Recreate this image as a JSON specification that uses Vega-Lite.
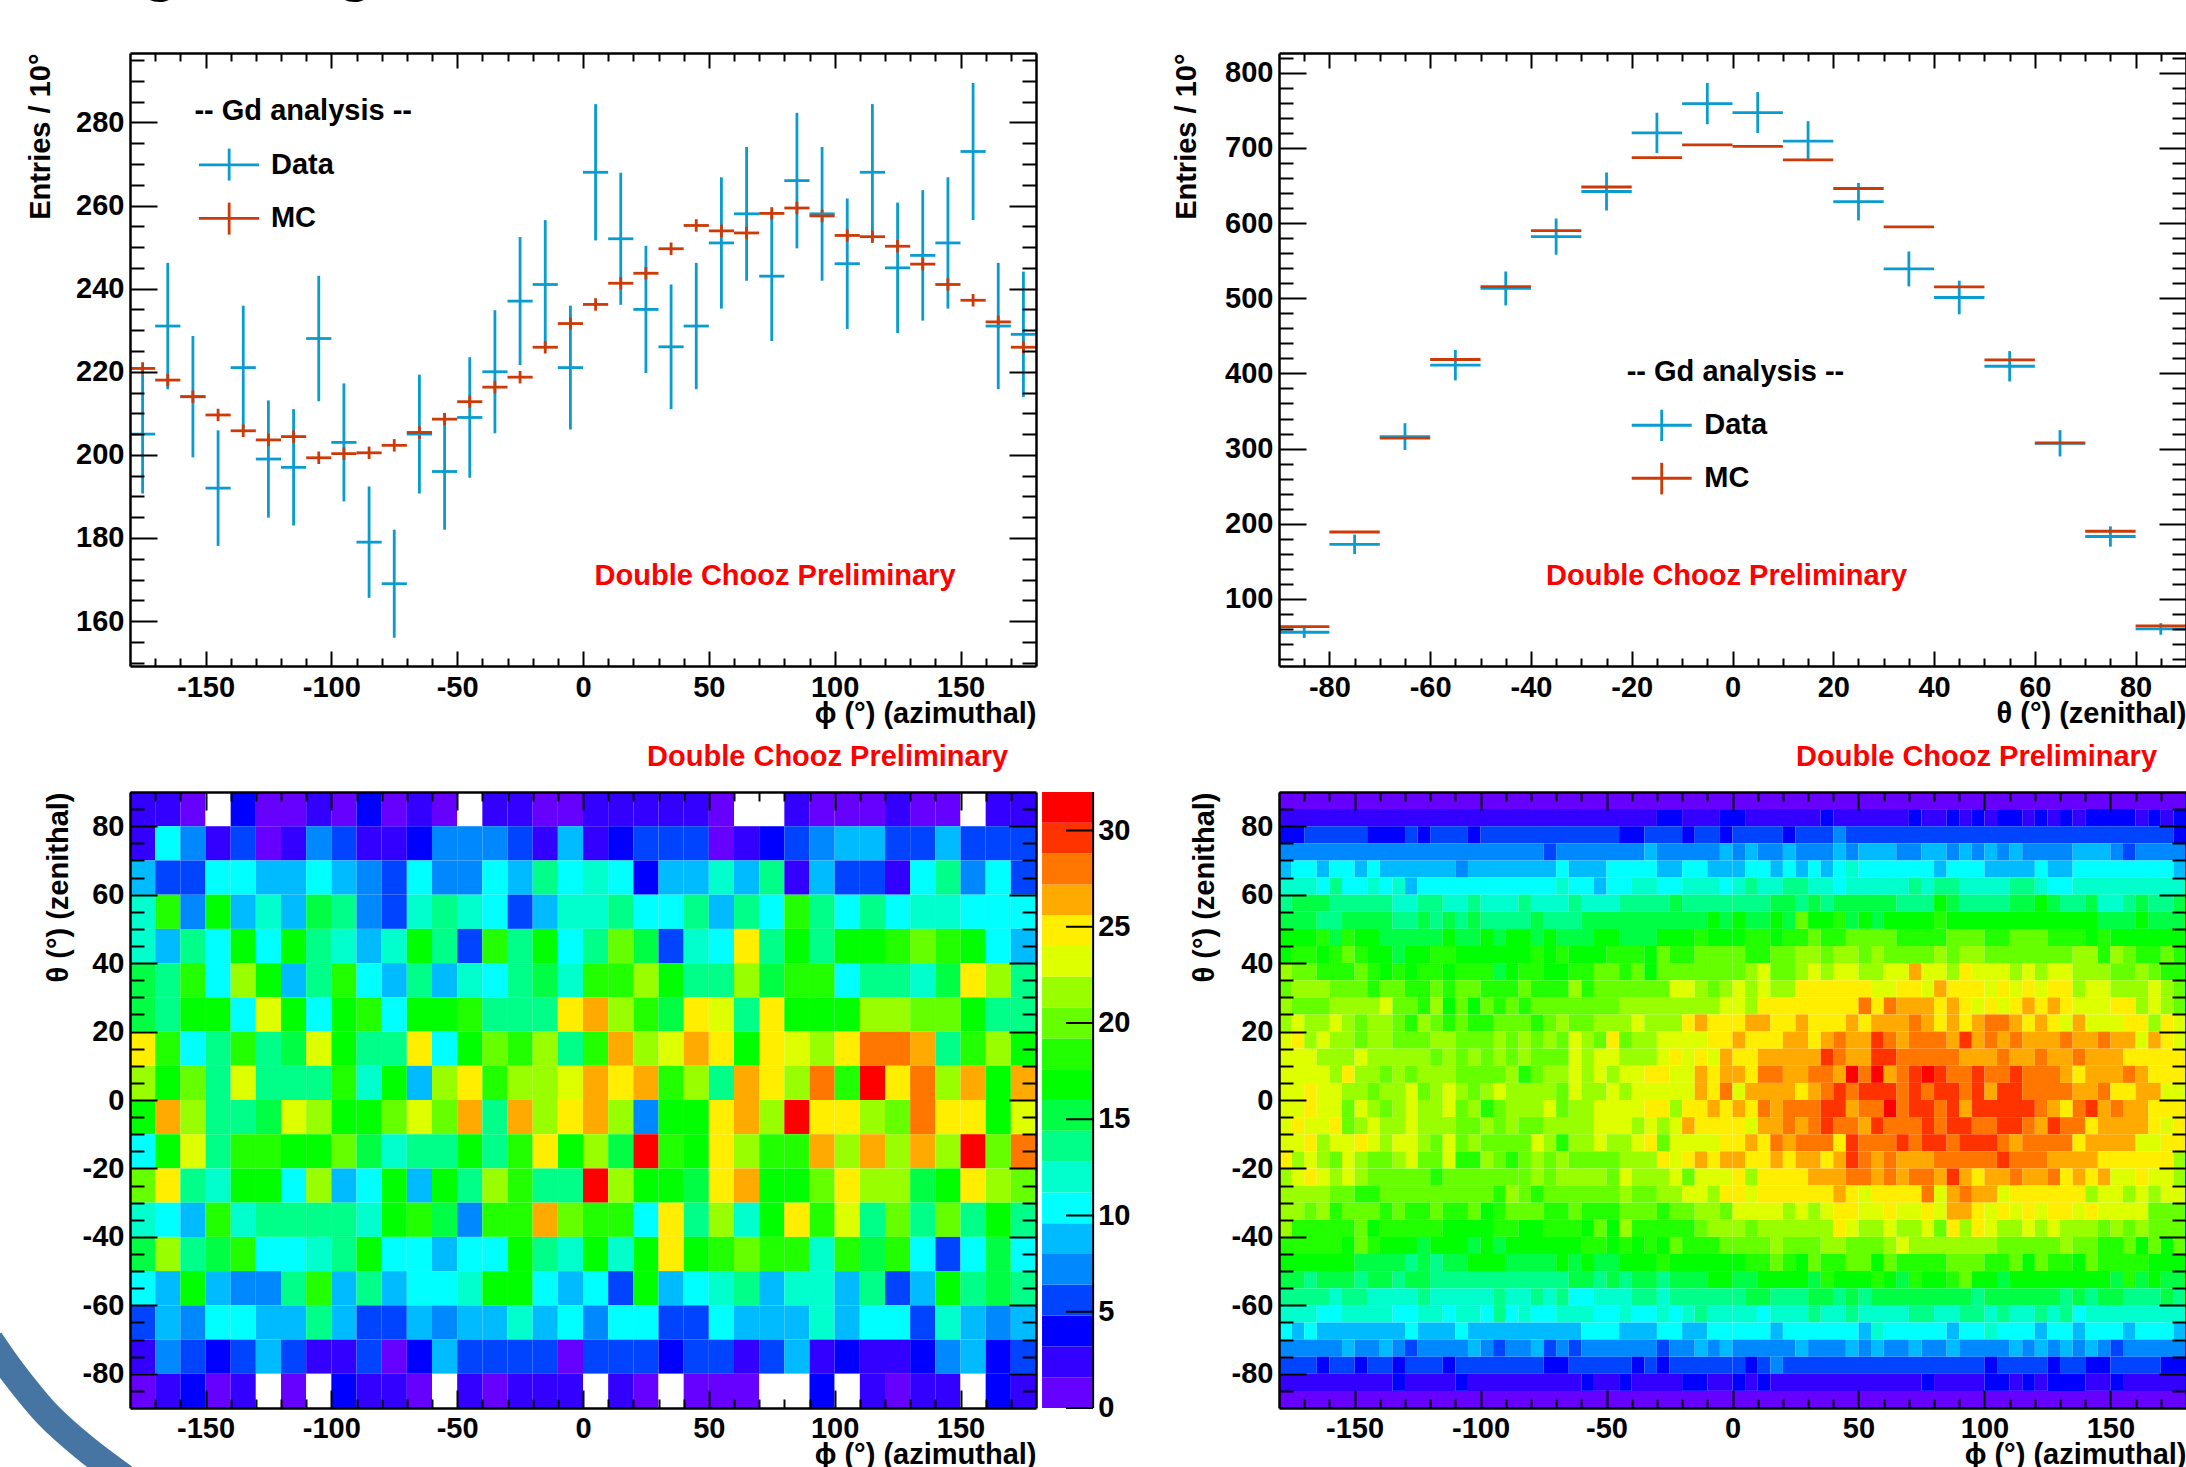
{"$schema":"https://vega.github.io/schema/vega-lite/v6.json","autosize":{"type":"none"},"padding":{"left":130,"top":53,"right":2056,"bottom":1414},"background":"white","config":{"view":{"stroke":null},"axis":{"labelFont":"Liberation Sans","labelFontWeight":"bold","labelFontSize":29,"labelColor":"#000","titleFont":"Liberation Sans","titleFontWeight":"bold","titleFontSize":29,"titleColor":"#000","grid":false,"tickColor":"#000","domainColor":"#000","domainWidth":2.5,"tickWidth":2,"labelOverlap":false,"labelFlush":false,"labelBound":false},"text":{"font":"Liberation Sans","fontWeight":"bold","fontSize":29,"baseline":"middle"}},
"datasets":{
"p1":[{"p":-175,"x1":-180,"x2":-170,"v":205,"lo":190.7,"hi":219.3,"s":"Data"},{"p":-165,"x1":-170,"x2":-160,"v":231,"lo":215.8,"hi":246.2,"s":"Data"},{"p":-155,"x1":-160,"x2":-150,"v":214,"lo":199.4,"hi":228.6,"s":"Data"},{"p":-145,"x1":-150,"x2":-140,"v":192,"lo":178.1,"hi":205.9,"s":"Data"},{"p":-135,"x1":-140,"x2":-130,"v":221,"lo":206.1,"hi":235.9,"s":"Data"},{"p":-125,"x1":-130,"x2":-120,"v":199,"lo":184.9,"hi":213.1,"s":"Data"},{"p":-115,"x1":-120,"x2":-110,"v":197,"lo":183,"hi":211,"s":"Data"},{"p":-105,"x1":-110,"x2":-100,"v":228,"lo":212.9,"hi":243.1,"s":"Data"},{"p":-95,"x1":-100,"x2":-90,"v":203,"lo":188.8,"hi":217.2,"s":"Data"},{"p":-85,"x1":-90,"x2":-80,"v":179,"lo":165.6,"hi":192.4,"s":"Data"},{"p":-75,"x1":-80,"x2":-70,"v":169,"lo":156,"hi":182,"s":"Data"},{"p":-65,"x1":-70,"x2":-60,"v":205,"lo":190.7,"hi":219.3,"s":"Data"},{"p":-55,"x1":-60,"x2":-50,"v":196,"lo":182,"hi":210,"s":"Data"},{"p":-45,"x1":-50,"x2":-40,"v":209,"lo":194.5,"hi":223.5,"s":"Data"},{"p":-35,"x1":-40,"x2":-30,"v":220,"lo":205.2,"hi":234.8,"s":"Data"},{"p":-25,"x1":-30,"x2":-20,"v":237,"lo":221.6,"hi":252.4,"s":"Data"},{"p":-15,"x1":-20,"x2":-10,"v":241,"lo":225.5,"hi":256.5,"s":"Data"},{"p":-5,"x1":-10,"x2":0,"v":221,"lo":206.1,"hi":235.9,"s":"Data"},{"p":5,"x1":0,"x2":10,"v":268,"lo":251.6,"hi":284.4,"s":"Data"},{"p":15,"x1":10,"x2":20,"v":252,"lo":236.1,"hi":267.9,"s":"Data"},{"p":25,"x1":20,"x2":30,"v":235,"lo":219.7,"hi":250.3,"s":"Data"},{"p":35,"x1":30,"x2":40,"v":226,"lo":211,"hi":241,"s":"Data"},{"p":45,"x1":40,"x2":50,"v":231,"lo":215.8,"hi":246.2,"s":"Data"},{"p":55,"x1":50,"x2":60,"v":251,"lo":235.2,"hi":266.8,"s":"Data"},{"p":65,"x1":60,"x2":70,"v":258,"lo":241.9,"hi":274.1,"s":"Data"},{"p":75,"x1":70,"x2":80,"v":243,"lo":227.4,"hi":258.6,"s":"Data"},{"p":85,"x1":80,"x2":90,"v":266,"lo":249.7,"hi":282.3,"s":"Data"},{"p":95,"x1":90,"x2":100,"v":258,"lo":241.9,"hi":274.1,"s":"Data"},{"p":105,"x1":100,"x2":110,"v":246,"lo":230.3,"hi":261.7,"s":"Data"},{"p":115,"x1":110,"x2":120,"v":268,"lo":251.6,"hi":284.4,"s":"Data"},{"p":125,"x1":120,"x2":130,"v":245,"lo":229.3,"hi":260.7,"s":"Data"},{"p":135,"x1":130,"x2":140,"v":248,"lo":232.3,"hi":263.7,"s":"Data"},{"p":145,"x1":140,"x2":150,"v":251,"lo":235.2,"hi":266.8,"s":"Data"},{"p":155,"x1":150,"x2":160,"v":273,"lo":256.5,"hi":289.5,"s":"Data"},{"p":165,"x1":160,"x2":170,"v":231,"lo":215.8,"hi":246.2,"s":"Data"},{"p":175,"x1":170,"x2":180,"v":229,"lo":213.9,"hi":244.1,"s":"Data"},{"p":-140.6,"x1":-152.6,"x2":-128.7,"v":269.8,"lo":266,"hi":273.7,"s":"Data"},
{"p":-175,"x1":-180,"x2":-170,"v":220.8,"lo":219.3,"hi":222.3,"s":"MC"},{"p":-165,"x1":-170,"x2":-160,"v":218,"lo":216.5,"hi":219.5,"s":"MC"},{"p":-155,"x1":-160,"x2":-150,"v":214,"lo":212.5,"hi":215.5,"s":"MC"},{"p":-145,"x1":-150,"x2":-140,"v":209.6,"lo":208.1,"hi":211.1,"s":"MC"},{"p":-135,"x1":-140,"x2":-130,"v":205.8,"lo":204.3,"hi":207.3,"s":"MC"},{"p":-125,"x1":-130,"x2":-120,"v":203.6,"lo":202.1,"hi":205.1,"s":"MC"},{"p":-115,"x1":-120,"x2":-110,"v":204.4,"lo":202.9,"hi":205.9,"s":"MC"},{"p":-105,"x1":-110,"x2":-100,"v":199.3,"lo":197.8,"hi":200.8,"s":"MC"},{"p":-95,"x1":-100,"x2":-90,"v":200.3,"lo":198.8,"hi":201.8,"s":"MC"},{"p":-85,"x1":-90,"x2":-80,"v":200.5,"lo":199,"hi":202,"s":"MC"},{"p":-75,"x1":-80,"x2":-70,"v":202.3,"lo":200.8,"hi":203.8,"s":"MC"},{"p":-65,"x1":-70,"x2":-60,"v":205.4,"lo":203.9,"hi":206.9,"s":"MC"},{"p":-55,"x1":-60,"x2":-50,"v":208.6,"lo":207.1,"hi":210.1,"s":"MC"},{"p":-45,"x1":-50,"x2":-40,"v":212.8,"lo":211.3,"hi":214.3,"s":"MC"},{"p":-35,"x1":-40,"x2":-30,"v":216.3,"lo":214.8,"hi":217.8,"s":"MC"},{"p":-25,"x1":-30,"x2":-20,"v":218.7,"lo":217.2,"hi":220.2,"s":"MC"},{"p":-15,"x1":-20,"x2":-10,"v":225.9,"lo":224.4,"hi":227.4,"s":"MC"},{"p":-5,"x1":-10,"x2":0,"v":231.6,"lo":230.1,"hi":233.1,"s":"MC"},{"p":5,"x1":0,"x2":10,"v":236.2,"lo":234.7,"hi":237.7,"s":"MC"},{"p":15,"x1":10,"x2":20,"v":241.3,"lo":239.8,"hi":242.8,"s":"MC"},{"p":25,"x1":20,"x2":30,"v":243.7,"lo":242.2,"hi":245.2,"s":"MC"},{"p":35,"x1":30,"x2":40,"v":249.6,"lo":248.1,"hi":251.1,"s":"MC"},{"p":45,"x1":40,"x2":50,"v":255.2,"lo":253.7,"hi":256.7,"s":"MC"},{"p":55,"x1":50,"x2":60,"v":253.9,"lo":252.4,"hi":255.4,"s":"MC"},{"p":65,"x1":60,"x2":70,"v":253.4,"lo":251.9,"hi":254.9,"s":"MC"},{"p":75,"x1":70,"x2":80,"v":258.1,"lo":256.6,"hi":259.6,"s":"MC"},{"p":85,"x1":80,"x2":90,"v":259.4,"lo":257.9,"hi":260.9,"s":"MC"},{"p":95,"x1":90,"x2":100,"v":257.5,"lo":256,"hi":259,"s":"MC"},{"p":105,"x1":100,"x2":110,"v":252.8,"lo":251.3,"hi":254.3,"s":"MC"},{"p":115,"x1":110,"x2":120,"v":252.5,"lo":251,"hi":254,"s":"MC"},{"p":125,"x1":120,"x2":130,"v":250.2,"lo":248.7,"hi":251.7,"s":"MC"},{"p":135,"x1":130,"x2":140,"v":245.9,"lo":244.4,"hi":247.4,"s":"MC"},{"p":145,"x1":140,"x2":150,"v":241,"lo":239.5,"hi":242.5,"s":"MC"},{"p":155,"x1":150,"x2":160,"v":237.2,"lo":235.7,"hi":238.7,"s":"MC"},{"p":165,"x1":160,"x2":170,"v":232,"lo":230.5,"hi":233.5,"s":"MC"},{"p":175,"x1":170,"x2":180,"v":225.9,"lo":224.4,"hi":227.4,"s":"MC"},{"p":-140.6,"x1":-152.6,"x2":-128.7,"v":256.9,"lo":253,"hi":260.7,"s":"MC"}],
"p2":[{"p":-85,"x1":-90,"x2":-80,"v":55.6,"lo":48,"hi":63,"s":"Data"},{"p":-75,"x1":-80,"x2":-70,"v":172.5,"lo":159.5,"hi":185.5,"s":"Data"},{"p":-65,"x1":-70,"x2":-60,"v":316,"lo":298.2,"hi":333.8,"s":"Data"},{"p":-55,"x1":-60,"x2":-50,"v":411,"lo":390.7,"hi":431.3,"s":"Data"},{"p":-45,"x1":-50,"x2":-40,"v":513,"lo":490.4,"hi":535.6,"s":"Data"},{"p":-35,"x1":-40,"x2":-30,"v":582,"lo":557.9,"hi":606.1,"s":"Data"},{"p":-25,"x1":-30,"x2":-20,"v":642,"lo":616.7,"hi":667.3,"s":"Data"},{"p":-15,"x1":-20,"x2":-10,"v":720,"lo":693.2,"hi":746.8,"s":"Data"},{"p":-5,"x1":-10,"x2":0,"v":759,"lo":731.5,"hi":786.5,"s":"Data"},{"p":5,"x1":0,"x2":10,"v":747,"lo":719.7,"hi":774.3,"s":"Data"},{"p":15,"x1":10,"x2":20,"v":709,"lo":682.4,"hi":735.6,"s":"Data"},{"p":25,"x1":20,"x2":30,"v":628.5,"lo":603.5,"hi":653.5,"s":"Data"},{"p":35,"x1":30,"x2":40,"v":539,"lo":515.8,"hi":562.2,"s":"Data"},{"p":45,"x1":40,"x2":50,"v":501,"lo":478.6,"hi":523.4,"s":"Data"},{"p":55,"x1":50,"x2":60,"v":409.5,"lo":389.3,"hi":429.7,"s":"Data"},{"p":65,"x1":60,"x2":70,"v":307,"lo":289.5,"hi":324.5,"s":"Data"},{"p":75,"x1":70,"x2":80,"v":183,"lo":169.5,"hi":196.5,"s":"Data"},{"p":85,"x1":80,"x2":90,"v":60,"lo":52.3,"hi":67.7,"s":"Data"},{"p":-14.05,"x1":-20,"x2":-8.1,"v":331,"lo":310,"hi":351.7,"s":"Data"},
{"p":-85,"x1":-90,"x2":-80,"v":63,"lo":62,"hi":64,"s":"MC"},{"p":-75,"x1":-80,"x2":-70,"v":189,"lo":188,"hi":190,"s":"MC"},{"p":-65,"x1":-70,"x2":-60,"v":314,"lo":313,"hi":315,"s":"MC"},{"p":-55,"x1":-60,"x2":-50,"v":418.5,"lo":417.5,"hi":419.5,"s":"MC"},{"p":-45,"x1":-50,"x2":-40,"v":515.5,"lo":514.5,"hi":516.5,"s":"MC"},{"p":-35,"x1":-40,"x2":-30,"v":590,"lo":589,"hi":591,"s":"MC"},{"p":-25,"x1":-30,"x2":-20,"v":648,"lo":647,"hi":649,"s":"MC"},{"p":-15,"x1":-20,"x2":-10,"v":687,"lo":686,"hi":688,"s":"MC"},{"p":-5,"x1":-10,"x2":0,"v":704,"lo":703,"hi":705,"s":"MC"},{"p":5,"x1":0,"x2":10,"v":702,"lo":701,"hi":703,"s":"MC"},{"p":15,"x1":10,"x2":20,"v":684,"lo":683,"hi":685,"s":"MC"},{"p":25,"x1":20,"x2":30,"v":646,"lo":645,"hi":647,"s":"MC"},{"p":35,"x1":30,"x2":40,"v":595,"lo":594,"hi":596,"s":"MC"},{"p":45,"x1":40,"x2":50,"v":515,"lo":514,"hi":516,"s":"MC"},{"p":55,"x1":50,"x2":60,"v":418,"lo":417,"hi":419,"s":"MC"},{"p":65,"x1":60,"x2":70,"v":307.5,"lo":306.5,"hi":308.5,"s":"MC"},{"p":75,"x1":70,"x2":80,"v":190,"lo":189,"hi":191,"s":"MC"},{"p":85,"x1":80,"x2":90,"v":64,"lo":63,"hi":65,"s":"MC"},{"p":-14.05,"x1":-20,"x2":-8.1,"v":260.5,"lo":239,"hi":281,"s":"MC"}]
},
"spacing":{"row":126,"column":243},"columns":2,"bounds":"flush","align":"none",
"concat":[
{"width":906,"height":613,"resolve":{"axis":{"x":"independent","y":"independent"}},"layer":[
{"data":{"name":"p1"},"mark":{"type":"rule","strokeWidth":2.8},"encoding":{"x":{"field":"p","type":"quantitative","scale":{"domain":[-180,180],"nice":false,"zero":false},"axis":null},"y":{"field":"lo","type":"quantitative","scale":{"domain":[149.2,296.7],"nice":false,"zero":false},"axis":null},"y2":{"field":"hi"},"color":{"field":"s","type":"nominal","scale":{"domain":["Data","MC"],"range":["#0a9ccf","#cc3a08"]},"legend":null}}},
{"data":{"name":"p1"},"mark":{"type":"rule","strokeWidth":2.8},"encoding":{"x":{"field":"x1","type":"quantitative","scale":{"domain":[-180,180],"nice":false,"zero":false},"axis":null},"x2":{"field":"x2"},"y":{"field":"v","type":"quantitative","scale":{"domain":[149.2,296.7],"nice":false,"zero":false},"axis":null},"color":{"field":"s","type":"nominal","scale":{"domain":["Data","MC"],"range":["#0a9ccf","#cc3a08"]},"legend":null}}},
{"data":{"values":[{"x":-154.4,"y":282.7,"label":"-- Gd analysis --"},{"x":-124,"y":269.8,"label":"Data"},{"x":-124,"y":256.9,"label":"MC"}]},"mark":{"type":"text","align":"left","color":"#000"},"encoding":{"x":{"field":"x","type":"quantitative","scale":{"domain":[-180,180],"nice":false,"zero":false},"axis":null},"y":{"field":"y","type":"quantitative","scale":{"domain":[149.2,296.7],"nice":false,"zero":false},"axis":null},"text":{"field":"label"}}},
{"data":{"values":[{"x":4.6,"y":170.8,"label":"Double Chooz Preliminary"}]},"mark":{"type":"text","align":"left","color":"#ff0000"},"encoding":{"x":{"field":"x","type":"quantitative","scale":{"domain":[-180,180],"nice":false,"zero":false},"axis":null},"y":{"field":"y","type":"quantitative","scale":{"domain":[149.2,296.7],"nice":false,"zero":false},"axis":null},"text":{"field":"label"}}},
{"data":{"values":[{"x":-168,"y":311.9,"label":"g"},{"x":-90.6,"y":311.9,"label":"g"}]},"mark":{"type":"text","align":"center","baseline":"alphabetic","fontSize":60,"color":"#000"},"encoding":{"x":{"field":"x","type":"quantitative","scale":{"domain":[-180,180],"nice":false,"zero":false},"axis":null},"y":{"field":"y","type":"quantitative","scale":{"domain":[149.2,296.7],"nice":false,"zero":false},"axis":null},"text":{"field":"label"}}},
{"data":{"values":[{"p":0,"v":200}]},"mark":{"type":"point","opacity":0},"encoding":{"x":{"field":"p","type":"quantitative","scale":{"domain":[-180,180],"nice":false,"zero":false},"axis":{"orient":"bottom","values":[-150,-100,-50,0,50,100,150],"labelExpr":"replace(datum.label,'−','-')","ticks":false,"domain":false,"labelPadding":7,"title":"ϕ (°) (azimuthal)","titleAnchor":"end","titlePadding":-3}},"y":{"field":"v","type":"quantitative","scale":{"domain":[149.2,296.7],"nice":false,"zero":false},"axis":{"orient":"left","values":[160,180,200,220,240,260,280],"ticks":false,"domain":false,"labelPadding":6,"title":"Entries / 10°","titleAnchor":"end","titlePadding":20}}}},
{"data":{"values":[{"p":0,"v":200}]},"mark":{"type":"point","opacity":0},"encoding":{"x":{"field":"p","type":"quantitative","scale":{"domain":[-180,180],"nice":false,"zero":false},"axis":{"orient":"bottom","values":[-150,-100,-50,0,50,100,150],"labels":false,"tickSize":-15,"title":null,"zindex":1}},"y":{"field":"v","type":"quantitative","scale":{"domain":[149.2,296.7],"nice":false,"zero":false},"axis":{"orient":"left","values":[160,180,200,220,240,260,280],"labels":false,"tickSize":-27,"title":null,"zindex":1}}}},
{"data":{"values":[{"p":0,"v":200}]},"mark":{"type":"point","opacity":0},"encoding":{"x":{"field":"p","type":"quantitative","scale":{"domain":[-180,180],"nice":false,"zero":false},"axis":{"orient":"bottom","values":[-170,-160,-140,-130,-120,-110,-90,-80,-70,-60,-40,-30,-20,-10,10,20,30,40,60,70,80,90,110,120,130,140,160,170],"labels":false,"domain":false,"tickSize":-8,"title":null,"zindex":1}},"y":{"field":"v","type":"quantitative","scale":{"domain":[149.2,296.7],"nice":false,"zero":false},"axis":{"orient":"left","values":[150,155,165,170,175,185,190,195,205,210,215,225,230,235,245,250,255,265,270,275,285,290,295],"labels":false,"domain":false,"tickSize":-14,"title":null,"zindex":1}}}},
{"data":{"values":[{"p":0,"v":200}]},"mark":{"type":"point","opacity":0},"encoding":{"x":{"field":"p","type":"quantitative","scale":{"domain":[-180,180],"nice":false,"zero":false},"axis":{"orient":"top","values":[-150,-100,-50,0,50,100,150],"labels":false,"tickSize":-15,"title":null,"zindex":1}},"y":{"field":"v","type":"quantitative","scale":{"domain":[149.2,296.7],"nice":false,"zero":false},"axis":{"orient":"right","values":[160,180,200,220,240,260,280],"labels":false,"tickSize":-27,"title":null,"zindex":1}}}},
{"data":{"values":[{"p":0,"v":200}]},"mark":{"type":"point","opacity":0},"encoding":{"x":{"field":"p","type":"quantitative","scale":{"domain":[-180,180],"nice":false,"zero":false},"axis":{"orient":"top","values":[-170,-160,-140,-130,-120,-110,-90,-80,-70,-60,-40,-30,-20,-10,10,20,30,40,60,70,80,90,110,120,130,140,160,170],"labels":false,"domain":false,"tickSize":-8,"title":null,"zindex":1}},"y":{"field":"v","type":"quantitative","scale":{"domain":[149.2,296.7],"nice":false,"zero":false},"axis":{"orient":"right","values":[150,155,165,170,175,185,190,195,205,210,215,225,230,235,245,250,255,265,270,275,285,290,295],"labels":false,"domain":false,"tickSize":-14,"title":null,"zindex":1}}}}
]},
{"width":907,"height":613,"resolve":{"axis":{"x":"independent","y":"independent"}},"layer":[
{"data":{"name":"p2"},"mark":{"type":"rule","strokeWidth":2.8},"encoding":{"x":{"field":"p","type":"quantitative","scale":{"domain":[-90,90],"nice":false,"zero":false},"axis":null},"y":{"field":"lo","type":"quantitative","scale":{"domain":[10.7,826.3],"nice":false,"zero":false},"axis":null},"y2":{"field":"hi"},"color":{"field":"s","type":"nominal","scale":{"domain":["Data","MC"],"range":["#0a9ccf","#cc3a08"]},"legend":null}}},
{"data":{"name":"p2"},"mark":{"type":"rule","strokeWidth":2.8},"encoding":{"x":{"field":"x1","type":"quantitative","scale":{"domain":[-90,90],"nice":false,"zero":false},"axis":null},"x2":{"field":"x2"},"y":{"field":"v","type":"quantitative","scale":{"domain":[10.7,826.3],"nice":false,"zero":false},"axis":null},"color":{"field":"s","type":"nominal","scale":{"domain":["Data","MC"],"range":["#0a9ccf","#cc3a08"]},"legend":null}}},
{"data":{"values":[{"x":-21,"y":402,"label":"-- Gd analysis --"},{"x":-5.6,"y":331,"label":"Data"},{"x":-5.6,"y":260.5,"label":"MC"}]},"mark":{"type":"text","align":"left","color":"#000"},"encoding":{"x":{"field":"x","type":"quantitative","scale":{"domain":[-90,90],"nice":false,"zero":false},"axis":null},"y":{"field":"y","type":"quantitative","scale":{"domain":[10.7,826.3],"nice":false,"zero":false},"axis":null},"text":{"field":"label"}}},
{"data":{"values":[{"x":-37,"y":130,"label":"Double Chooz Preliminary"}]},"mark":{"type":"text","align":"left","color":"#ff0000"},"encoding":{"x":{"field":"x","type":"quantitative","scale":{"domain":[-90,90],"nice":false,"zero":false},"axis":null},"y":{"field":"y","type":"quantitative","scale":{"domain":[10.7,826.3],"nice":false,"zero":false},"axis":null},"text":{"field":"label"}}},
{"data":{"values":[{"p":0,"v":200}]},"mark":{"type":"point","opacity":0},"encoding":{"x":{"field":"p","type":"quantitative","scale":{"domain":[-90,90],"nice":false,"zero":false},"axis":{"orient":"bottom","values":[-80,-60,-40,-20,0,20,40,60,80],"labelExpr":"replace(datum.label,'−','-')","ticks":false,"domain":false,"labelPadding":7,"title":"θ (°) (zenithal)","titleAnchor":"end","titlePadding":-3}},"y":{"field":"v","type":"quantitative","scale":{"domain":[10.7,826.3],"nice":false,"zero":false},"axis":{"orient":"left","values":[100,200,300,400,500,600,700,800],"ticks":false,"domain":false,"labelPadding":6,"title":"Entries / 10°","titleAnchor":"end","titlePadding":23}}}},
{"data":{"values":[{"p":0,"v":200}]},"mark":{"type":"point","opacity":0},"encoding":{"x":{"field":"p","type":"quantitative","scale":{"domain":[-90,90],"nice":false,"zero":false},"axis":{"orient":"bottom","values":[-80,-60,-40,-20,0,20,40,60,80],"labels":false,"tickSize":-15,"title":null,"zindex":1}},"y":{"field":"v","type":"quantitative","scale":{"domain":[10.7,826.3],"nice":false,"zero":false},"axis":{"orient":"left","values":[100,200,300,400,500,600,700,800],"labels":false,"tickSize":-27,"title":null,"zindex":1}}}},
{"data":{"values":[{"p":0,"v":200}]},"mark":{"type":"point","opacity":0},"encoding":{"x":{"field":"p","type":"quantitative","scale":{"domain":[-90,90],"nice":false,"zero":false},"axis":{"orient":"bottom","values":[-85,-75,-70,-65,-55,-50,-45,-35,-30,-25,-15,-10,-5,5,10,15,25,30,35,45,50,55,65,70,75,85],"labels":false,"domain":false,"tickSize":-8,"title":null,"zindex":1}},"y":{"field":"v","type":"quantitative","scale":{"domain":[10.7,826.3],"nice":false,"zero":false},"axis":{"orient":"left","values":[20,40,60,80,120,140,160,180,220,240,260,280,320,340,360,380,420,440,460,480,520,540,560,580,620,640,660,680,720,740,760,780,820],"labels":false,"domain":false,"tickSize":-14,"title":null,"zindex":1}}}},
{"data":{"values":[{"p":0,"v":200}]},"mark":{"type":"point","opacity":0},"encoding":{"x":{"field":"p","type":"quantitative","scale":{"domain":[-90,90],"nice":false,"zero":false},"axis":{"orient":"top","values":[-80,-60,-40,-20,0,20,40,60,80],"labels":false,"tickSize":-15,"title":null,"zindex":1}},"y":{"field":"v","type":"quantitative","scale":{"domain":[10.7,826.3],"nice":false,"zero":false},"axis":{"orient":"right","values":[100,200,300,400,500,600,700,800],"labels":false,"tickSize":-27,"title":null,"zindex":1}}}},
{"data":{"values":[{"p":0,"v":200}]},"mark":{"type":"point","opacity":0},"encoding":{"x":{"field":"p","type":"quantitative","scale":{"domain":[-90,90],"nice":false,"zero":false},"axis":{"orient":"top","values":[-85,-75,-70,-65,-55,-50,-45,-35,-30,-25,-15,-10,-5,5,10,15,25,30,35,45,50,55,65,70,75,85],"labels":false,"domain":false,"tickSize":-8,"title":null,"zindex":1}},"y":{"field":"v","type":"quantitative","scale":{"domain":[10.7,826.3],"nice":false,"zero":false},"axis":{"orient":"right","values":[20,40,60,80,120,140,160,180,220,240,260,280,320,340,360,380,420,440,460,480,520,540,560,580,620,640,660,680,720,740,760,780,820],"labels":false,"domain":false,"tickSize":-14,"title":null,"zindex":1}}}}
]},
{"width":906,"height":616,"resolve":{"axis":{"x":"independent","y":"independent"}},"layer":[
{"data":{"values":[{"x":-235.6,"y":-70.1},{"x":-225.7,"y":-80.4},{"x":-212.6,"y":-92},{"x":-197.9,"y":-101.7},{"x":-182,"y":-110.5}]},"mark":{"type":"line","interpolate":"cardinal","strokeWidth":27,"color":"#4775a3","clip":false},"encoding":{"x":{"field":"x","type":"quantitative","sort":null,"scale":{"domain":[-180,180],"nice":false,"zero":false},"axis":null},"y":{"field":"y","type":"quantitative","scale":{"domain":[-90,90],"nice":false,"zero":false},"axis":null},"order":{"field":"x"}}},
{"data":{"values":[{"p":-180,"t":80,"n":2},{"p":-170,"t":80,"n":2},{"p":-160,"t":80,"n":1},{"p":-150,"t":80,"n":0},{"p":-140,"t":80,"n":4},{"p":-130,"t":80,"n":1},{"p":-120,"t":80,"n":1},{"p":-110,"t":80,"n":2},{"p":-100,"t":80,"n":1},{"p":-90,"t":80,"n":4},{"p":-80,"t":80,"n":1},{"p":-70,"t":80,"n":2},{"p":-60,"t":80,"n":1},{"p":-50,"t":80,"n":0},{"p":-40,"t":80,"n":2},{"p":-30,"t":80,"n":2},{"p":-20,"t":80,"n":1},{"p":-10,"t":80,"n":1},{"p":0,"t":80,"n":2},{"p":10,"t":80,"n":2},{"p":20,"t":80,"n":2},{"p":30,"t":80,"n":2},{"p":40,"t":80,"n":2},{"p":50,"t":80,"n":1},{"p":60,"t":80,"n":0},{"p":70,"t":80,"n":0},{"p":80,"t":80,"n":2},{"p":90,"t":80,"n":1},{"p":100,"t":80,"n":1},{"p":110,"t":80,"n":1},{"p":120,"t":80,"n":2},{"p":130,"t":80,"n":1},{"p":140,"t":80,"n":1},{"p":150,"t":80,"n":0},{"p":160,"t":80,"n":2},{"p":170,"t":80,"n":2},
{"p":-180,"t":70,"n":2},{"p":-170,"t":70,"n":10},{"p":-160,"t":70,"n":7},{"p":-150,"t":70,"n":2},{"p":-140,"t":70,"n":6},{"p":-130,"t":70,"n":1},{"p":-120,"t":70,"n":2},{"p":-110,"t":70,"n":7},{"p":-100,"t":70,"n":6},{"p":-90,"t":70,"n":2},{"p":-80,"t":70,"n":2},{"p":-70,"t":70,"n":4},{"p":-60,"t":70,"n":7},{"p":-50,"t":70,"n":7},{"p":-40,"t":70,"n":7},{"p":-30,"t":70,"n":6},{"p":-20,"t":70,"n":2},{"p":-10,"t":70,"n":9},{"p":0,"t":70,"n":2},{"p":10,"t":70,"n":4},{"p":20,"t":70,"n":6},{"p":30,"t":70,"n":6},{"p":40,"t":70,"n":6},{"p":50,"t":70,"n":1},{"p":60,"t":70,"n":2},{"p":70,"t":70,"n":4},{"p":80,"t":70,"n":6},{"p":90,"t":70,"n":7},{"p":100,"t":70,"n":9},{"p":110,"t":70,"n":9},{"p":120,"t":70,"n":6},{"p":130,"t":70,"n":6},{"p":140,"t":70,"n":9},{"p":150,"t":70,"n":6},{"p":160,"t":70,"n":6},{"p":170,"t":70,"n":6},
{"p":-180,"t":60,"n":9},{"p":-170,"t":60,"n":6},{"p":-160,"t":60,"n":6},{"p":-150,"t":60,"n":10},{"p":-140,"t":60,"n":10},{"p":-130,"t":60,"n":9},{"p":-120,"t":60,"n":9},{"p":-110,"t":60,"n":10},{"p":-100,"t":60,"n":9},{"p":-90,"t":60,"n":7},{"p":-80,"t":60,"n":6},{"p":-70,"t":60,"n":10},{"p":-60,"t":60,"n":7},{"p":-50,"t":60,"n":7},{"p":-40,"t":60,"n":10},{"p":-30,"t":60,"n":9},{"p":-20,"t":60,"n":14},{"p":-10,"t":60,"n":10},{"p":0,"t":60,"n":12},{"p":10,"t":60,"n":10},{"p":20,"t":60,"n":4},{"p":30,"t":60,"n":9},{"p":40,"t":60,"n":9},{"p":50,"t":60,"n":12},{"p":60,"t":60,"n":9},{"p":70,"t":60,"n":14},{"p":80,"t":60,"n":2},{"p":90,"t":60,"n":9},{"p":100,"t":60,"n":6},{"p":110,"t":60,"n":6},{"p":120,"t":60,"n":2},{"p":130,"t":60,"n":10},{"p":140,"t":60,"n":14},{"p":150,"t":60,"n":7},{"p":160,"t":60,"n":10},{"p":170,"t":60,"n":6},
{"p":-180,"t":50,"n":12},{"p":-170,"t":50,"n":18},{"p":-160,"t":50,"n":7},{"p":-150,"t":50,"n":17},{"p":-140,"t":50,"n":9},{"p":-130,"t":50,"n":12},{"p":-120,"t":50,"n":9},{"p":-110,"t":50,"n":15},{"p":-100,"t":50,"n":14},{"p":-90,"t":50,"n":7},{"p":-80,"t":50,"n":6},{"p":-70,"t":50,"n":12},{"p":-60,"t":50,"n":14},{"p":-50,"t":50,"n":12},{"p":-40,"t":50,"n":10},{"p":-30,"t":50,"n":6},{"p":-20,"t":50,"n":9},{"p":-10,"t":50,"n":12},{"p":0,"t":50,"n":12},{"p":10,"t":50,"n":14},{"p":20,"t":50,"n":10},{"p":30,"t":50,"n":10},{"p":40,"t":50,"n":14},{"p":50,"t":50,"n":9},{"p":60,"t":50,"n":14},{"p":70,"t":50,"n":10},{"p":80,"t":50,"n":18},{"p":90,"t":50,"n":14},{"p":100,"t":50,"n":10},{"p":110,"t":50,"n":14},{"p":120,"t":50,"n":10},{"p":130,"t":50,"n":12},{"p":140,"t":50,"n":12},{"p":150,"t":50,"n":10},{"p":160,"t":50,"n":10},{"p":170,"t":50,"n":10},
{"p":-180,"t":40,"n":12},{"p":-170,"t":40,"n":9},{"p":-160,"t":40,"n":14},{"p":-150,"t":40,"n":10},{"p":-140,"t":40,"n":17},{"p":-130,"t":40,"n":10},{"p":-120,"t":40,"n":17},{"p":-110,"t":40,"n":14},{"p":-100,"t":40,"n":12},{"p":-90,"t":40,"n":9},{"p":-80,"t":40,"n":12},{"p":-70,"t":40,"n":17},{"p":-60,"t":40,"n":14},{"p":-50,"t":40,"n":6},{"p":-40,"t":40,"n":18},{"p":-30,"t":40,"n":14},{"p":-20,"t":40,"n":17},{"p":-10,"t":40,"n":10},{"p":0,"t":40,"n":14},{"p":10,"t":40,"n":20},{"p":20,"t":40,"n":15},{"p":30,"t":40,"n":6},{"p":40,"t":40,"n":12},{"p":50,"t":40,"n":10},{"p":60,"t":40,"n":25},{"p":70,"t":40,"n":14},{"p":80,"t":40,"n":17},{"p":90,"t":40,"n":14},{"p":100,"t":40,"n":17},{"p":110,"t":40,"n":17},{"p":120,"t":40,"n":18},{"p":130,"t":40,"n":20},{"p":140,"t":40,"n":18},{"p":150,"t":40,"n":17},{"p":160,"t":40,"n":10},{"p":170,"t":40,"n":9},
{"p":-180,"t":30,"n":15},{"p":-170,"t":30,"n":14},{"p":-160,"t":30,"n":18},{"p":-150,"t":30,"n":10},{"p":-140,"t":30,"n":22},{"p":-130,"t":30,"n":17},{"p":-120,"t":30,"n":9},{"p":-110,"t":30,"n":14},{"p":-100,"t":30,"n":18},{"p":-90,"t":30,"n":10},{"p":-80,"t":30,"n":9},{"p":-70,"t":30,"n":14},{"p":-60,"t":30,"n":9},{"p":-50,"t":30,"n":12},{"p":-40,"t":30,"n":10},{"p":-30,"t":30,"n":14},{"p":-20,"t":30,"n":15},{"p":-10,"t":30,"n":12},{"p":0,"t":30,"n":18},{"p":10,"t":30,"n":18},{"p":20,"t":30,"n":22},{"p":30,"t":30,"n":17},{"p":40,"t":30,"n":14},{"p":50,"t":30,"n":14},{"p":60,"t":30,"n":22},{"p":70,"t":30,"n":15},{"p":80,"t":30,"n":18},{"p":90,"t":30,"n":18},{"p":100,"t":30,"n":10},{"p":110,"t":30,"n":14},{"p":120,"t":30,"n":14},{"p":130,"t":30,"n":12},{"p":140,"t":30,"n":15},{"p":150,"t":30,"n":25},{"p":160,"t":30,"n":22},{"p":170,"t":30,"n":14},
{"p":-180,"t":20,"n":15},{"p":-170,"t":20,"n":14},{"p":-160,"t":20,"n":17},{"p":-150,"t":20,"n":17},{"p":-140,"t":20,"n":10},{"p":-130,"t":20,"n":23},{"p":-120,"t":20,"n":17},{"p":-110,"t":20,"n":10},{"p":-100,"t":20,"n":17},{"p":-90,"t":20,"n":18},{"p":-80,"t":20,"n":10},{"p":-70,"t":20,"n":17},{"p":-60,"t":20,"n":17},{"p":-50,"t":20,"n":18},{"p":-40,"t":20,"n":14},{"p":-30,"t":20,"n":14},{"p":-20,"t":20,"n":14},{"p":-10,"t":20,"n":25},{"p":0,"t":20,"n":26},{"p":10,"t":20,"n":22},{"p":20,"t":20,"n":18},{"p":30,"t":20,"n":15},{"p":40,"t":20,"n":25},{"p":50,"t":20,"n":23},{"p":60,"t":20,"n":14},{"p":70,"t":20,"n":25},{"p":80,"t":20,"n":17},{"p":90,"t":20,"n":17},{"p":100,"t":20,"n":17},{"p":110,"t":20,"n":22},{"p":120,"t":20,"n":22},{"p":130,"t":20,"n":20},{"p":140,"t":20,"n":20},{"p":150,"t":20,"n":17},{"p":160,"t":20,"n":14},{"p":170,"t":20,"n":14},
{"p":-180,"t":10,"n":25},{"p":-170,"t":10,"n":18},{"p":-160,"t":10,"n":10},{"p":-150,"t":10,"n":14},{"p":-140,"t":10,"n":18},{"p":-130,"t":10,"n":14},{"p":-120,"t":10,"n":15},{"p":-110,"t":10,"n":23},{"p":-100,"t":10,"n":17},{"p":-90,"t":10,"n":14},{"p":-80,"t":10,"n":14},{"p":-70,"t":10,"n":25},{"p":-60,"t":10,"n":10},{"p":-50,"t":10,"n":17},{"p":-40,"t":10,"n":20},{"p":-30,"t":10,"n":18},{"p":-20,"t":10,"n":22},{"p":-10,"t":10,"n":14},{"p":0,"t":10,"n":18},{"p":10,"t":10,"n":26},{"p":20,"t":10,"n":22},{"p":30,"t":10,"n":23},{"p":40,"t":10,"n":26},{"p":50,"t":10,"n":25},{"p":60,"t":10,"n":17},{"p":70,"t":10,"n":25},{"p":80,"t":10,"n":23},{"p":90,"t":10,"n":22},{"p":100,"t":10,"n":25},{"p":110,"t":10,"n":28},{"p":120,"t":10,"n":28},{"p":130,"t":10,"n":26},{"p":140,"t":10,"n":14},{"p":150,"t":10,"n":18},{"p":160,"t":10,"n":22},{"p":170,"t":10,"n":17},
{"p":-180,"t":0,"n":22},{"p":-170,"t":0,"n":17},{"p":-160,"t":0,"n":20},{"p":-150,"t":0,"n":14},{"p":-140,"t":0,"n":23},{"p":-130,"t":0,"n":14},{"p":-120,"t":0,"n":14},{"p":-110,"t":0,"n":14},{"p":-100,"t":0,"n":18},{"p":-90,"t":0,"n":12},{"p":-80,"t":0,"n":17},{"p":-70,"t":0,"n":9},{"p":-60,"t":0,"n":22},{"p":-50,"t":0,"n":25},{"p":-40,"t":0,"n":18},{"p":-30,"t":0,"n":22},{"p":-20,"t":0,"n":22},{"p":-10,"t":0,"n":23},{"p":0,"t":0,"n":26},{"p":10,"t":0,"n":25},{"p":20,"t":0,"n":26},{"p":30,"t":0,"n":18},{"p":40,"t":0,"n":22},{"p":50,"t":0,"n":14},{"p":60,"t":0,"n":26},{"p":70,"t":0,"n":25},{"p":80,"t":0,"n":22},{"p":90,"t":0,"n":28},{"p":100,"t":0,"n":18},{"p":110,"t":0,"n":31},{"p":120,"t":0,"n":25},{"p":130,"t":0,"n":28},{"p":140,"t":0,"n":22},{"p":150,"t":0,"n":26},{"p":160,"t":0,"n":17},{"p":170,"t":0,"n":26},
{"p":-180,"t":-10,"n":17},{"p":-170,"t":-10,"n":26},{"p":-160,"t":-10,"n":22},{"p":-150,"t":-10,"n":14},{"p":-140,"t":-10,"n":14},{"p":-130,"t":-10,"n":15},{"p":-120,"t":-10,"n":23},{"p":-110,"t":-10,"n":22},{"p":-100,"t":-10,"n":17},{"p":-90,"t":-10,"n":17},{"p":-80,"t":-10,"n":20},{"p":-70,"t":-10,"n":23},{"p":-60,"t":-10,"n":20},{"p":-50,"t":-10,"n":26},{"p":-40,"t":-10,"n":14},{"p":-30,"t":-10,"n":26},{"p":-20,"t":-10,"n":22},{"p":-10,"t":-10,"n":25},{"p":0,"t":-10,"n":26},{"p":10,"t":-10,"n":22},{"p":20,"t":-10,"n":7},{"p":30,"t":-10,"n":17},{"p":40,"t":-10,"n":17},{"p":50,"t":-10,"n":25},{"p":60,"t":-10,"n":26},{"p":70,"t":-10,"n":22},{"p":80,"t":-10,"n":31},{"p":90,"t":-10,"n":25},{"p":100,"t":-10,"n":25},{"p":110,"t":-10,"n":22},{"p":120,"t":-10,"n":20},{"p":130,"t":-10,"n":28},{"p":140,"t":-10,"n":25},{"p":150,"t":-10,"n":25},{"p":160,"t":-10,"n":17},{"p":170,"t":-10,"n":23},
{"p":-180,"t":-20,"n":10},{"p":-170,"t":-20,"n":17},{"p":-160,"t":-20,"n":23},{"p":-150,"t":-20,"n":14},{"p":-140,"t":-20,"n":18},{"p":-130,"t":-20,"n":18},{"p":-120,"t":-20,"n":17},{"p":-110,"t":-20,"n":17},{"p":-100,"t":-20,"n":20},{"p":-90,"t":-20,"n":15},{"p":-80,"t":-20,"n":12},{"p":-70,"t":-20,"n":14},{"p":-60,"t":-20,"n":14},{"p":-50,"t":-20,"n":17},{"p":-40,"t":-20,"n":14},{"p":-30,"t":-20,"n":18},{"p":-20,"t":-20,"n":25},{"p":-10,"t":-20,"n":17},{"p":0,"t":-20,"n":22},{"p":10,"t":-20,"n":15},{"p":20,"t":-20,"n":31},{"p":30,"t":-20,"n":18},{"p":40,"t":-20,"n":17},{"p":50,"t":-20,"n":25},{"p":60,"t":-20,"n":22},{"p":70,"t":-20,"n":18},{"p":80,"t":-20,"n":18},{"p":90,"t":-20,"n":26},{"p":100,"t":-20,"n":22},{"p":110,"t":-20,"n":26},{"p":120,"t":-20,"n":22},{"p":130,"t":-20,"n":26},{"p":140,"t":-20,"n":22},{"p":150,"t":-20,"n":31},{"p":160,"t":-20,"n":20},{"p":170,"t":-20,"n":28},
{"p":-180,"t":-30,"n":20},{"p":-170,"t":-30,"n":25},{"p":-160,"t":-30,"n":14},{"p":-150,"t":-30,"n":12},{"p":-140,"t":-30,"n":17},{"p":-130,"t":-30,"n":17},{"p":-120,"t":-30,"n":10},{"p":-110,"t":-30,"n":22},{"p":-100,"t":-30,"n":9},{"p":-90,"t":-30,"n":10},{"p":-80,"t":-30,"n":17},{"p":-70,"t":-30,"n":9},{"p":-60,"t":-30,"n":17},{"p":-50,"t":-30,"n":14},{"p":-40,"t":-30,"n":22},{"p":-30,"t":-30,"n":18},{"p":-20,"t":-30,"n":14},{"p":-10,"t":-30,"n":14},{"p":0,"t":-30,"n":31},{"p":10,"t":-30,"n":22},{"p":20,"t":-30,"n":17},{"p":30,"t":-30,"n":17},{"p":40,"t":-30,"n":15},{"p":50,"t":-30,"n":25},{"p":60,"t":-30,"n":26},{"p":70,"t":-30,"n":17},{"p":80,"t":-30,"n":17},{"p":90,"t":-30,"n":20},{"p":100,"t":-30,"n":25},{"p":110,"t":-30,"n":22},{"p":120,"t":-30,"n":22},{"p":130,"t":-30,"n":15},{"p":140,"t":-30,"n":17},{"p":150,"t":-30,"n":25},{"p":160,"t":-30,"n":22},{"p":170,"t":-30,"n":20},
{"p":-180,"t":-40,"n":12},{"p":-170,"t":-40,"n":10},{"p":-160,"t":-40,"n":9},{"p":-150,"t":-40,"n":18},{"p":-140,"t":-40,"n":12},{"p":-130,"t":-40,"n":14},{"p":-120,"t":-40,"n":14},{"p":-110,"t":-40,"n":14},{"p":-100,"t":-40,"n":14},{"p":-90,"t":-40,"n":12},{"p":-80,"t":-40,"n":17},{"p":-70,"t":-40,"n":18},{"p":-60,"t":-40,"n":15},{"p":-50,"t":-40,"n":7},{"p":-40,"t":-40,"n":18},{"p":-30,"t":-40,"n":18},{"p":-20,"t":-40,"n":26},{"p":-10,"t":-40,"n":20},{"p":0,"t":-40,"n":18},{"p":10,"t":-40,"n":18},{"p":20,"t":-40,"n":10},{"p":30,"t":-40,"n":25},{"p":40,"t":-40,"n":14},{"p":50,"t":-40,"n":22},{"p":60,"t":-40,"n":12},{"p":70,"t":-40,"n":17},{"p":80,"t":-40,"n":25},{"p":90,"t":-40,"n":18},{"p":100,"t":-40,"n":23},{"p":110,"t":-40,"n":14},{"p":120,"t":-40,"n":20},{"p":130,"t":-40,"n":14},{"p":140,"t":-40,"n":20},{"p":150,"t":-40,"n":14},{"p":160,"t":-40,"n":17},{"p":170,"t":-40,"n":14},
{"p":-180,"t":-50,"n":15},{"p":-170,"t":-50,"n":22},{"p":-160,"t":-50,"n":14},{"p":-150,"t":-50,"n":15},{"p":-140,"t":-50,"n":18},{"p":-130,"t":-50,"n":10},{"p":-120,"t":-50,"n":10},{"p":-110,"t":-50,"n":12},{"p":-100,"t":-50,"n":14},{"p":-90,"t":-50,"n":17},{"p":-80,"t":-50,"n":10},{"p":-70,"t":-50,"n":10},{"p":-60,"t":-50,"n":9},{"p":-50,"t":-50,"n":10},{"p":-40,"t":-50,"n":10},{"p":-30,"t":-50,"n":17},{"p":-20,"t":-50,"n":14},{"p":-10,"t":-50,"n":12},{"p":0,"t":-50,"n":17},{"p":10,"t":-50,"n":12},{"p":20,"t":-50,"n":17},{"p":30,"t":-50,"n":25},{"p":40,"t":-50,"n":17},{"p":50,"t":-50,"n":18},{"p":60,"t":-50,"n":20},{"p":70,"t":-50,"n":18},{"p":80,"t":-50,"n":18},{"p":90,"t":-50,"n":12},{"p":100,"t":-50,"n":18},{"p":110,"t":-50,"n":15},{"p":120,"t":-50,"n":18},{"p":130,"t":-50,"n":10},{"p":140,"t":-50,"n":6},{"p":150,"t":-50,"n":10},{"p":160,"t":-50,"n":15},{"p":170,"t":-50,"n":10},
{"p":-180,"t":-60,"n":10},{"p":-170,"t":-60,"n":9},{"p":-160,"t":-60,"n":17},{"p":-150,"t":-60,"n":9},{"p":-140,"t":-60,"n":7},{"p":-130,"t":-60,"n":7},{"p":-120,"t":-60,"n":14},{"p":-110,"t":-60,"n":18},{"p":-100,"t":-60,"n":9},{"p":-90,"t":-60,"n":14},{"p":-80,"t":-60,"n":9},{"p":-70,"t":-60,"n":10},{"p":-60,"t":-60,"n":10},{"p":-50,"t":-60,"n":12},{"p":-40,"t":-60,"n":17},{"p":-30,"t":-60,"n":17},{"p":-20,"t":-60,"n":10},{"p":-10,"t":-60,"n":9},{"p":0,"t":-60,"n":10},{"p":10,"t":-60,"n":6},{"p":20,"t":-60,"n":17},{"p":30,"t":-60,"n":9},{"p":40,"t":-60,"n":10},{"p":50,"t":-60,"n":12},{"p":60,"t":-60,"n":14},{"p":70,"t":-60,"n":9},{"p":80,"t":-60,"n":12},{"p":90,"t":-60,"n":12},{"p":100,"t":-60,"n":9},{"p":110,"t":-60,"n":14},{"p":120,"t":-60,"n":6},{"p":130,"t":-60,"n":9},{"p":140,"t":-60,"n":17},{"p":150,"t":-60,"n":14},{"p":160,"t":-60,"n":15},{"p":170,"t":-60,"n":14},
{"p":-180,"t":-70,"n":6},{"p":-170,"t":-70,"n":9},{"p":-160,"t":-70,"n":7},{"p":-150,"t":-70,"n":10},{"p":-140,"t":-70,"n":10},{"p":-130,"t":-70,"n":9},{"p":-120,"t":-70,"n":9},{"p":-110,"t":-70,"n":14},{"p":-100,"t":-70,"n":9},{"p":-90,"t":-70,"n":6},{"p":-80,"t":-70,"n":6},{"p":-70,"t":-70,"n":9},{"p":-60,"t":-70,"n":7},{"p":-50,"t":-70,"n":9},{"p":-40,"t":-70,"n":9},{"p":-30,"t":-70,"n":12},{"p":-20,"t":-70,"n":9},{"p":-10,"t":-70,"n":10},{"p":0,"t":-70,"n":7},{"p":10,"t":-70,"n":10},{"p":20,"t":-70,"n":10},{"p":30,"t":-70,"n":6},{"p":40,"t":-70,"n":6},{"p":50,"t":-70,"n":10},{"p":60,"t":-70,"n":9},{"p":70,"t":-70,"n":9},{"p":80,"t":-70,"n":9},{"p":90,"t":-70,"n":12},{"p":100,"t":-70,"n":9},{"p":110,"t":-70,"n":10},{"p":120,"t":-70,"n":10},{"p":130,"t":-70,"n":6},{"p":140,"t":-70,"n":12},{"p":150,"t":-70,"n":9},{"p":160,"t":-70,"n":7},{"p":170,"t":-70,"n":9},
{"p":-180,"t":-80,"n":2},{"p":-170,"t":-80,"n":7},{"p":-160,"t":-80,"n":6},{"p":-150,"t":-80,"n":4},{"p":-140,"t":-80,"n":6},{"p":-130,"t":-80,"n":9},{"p":-120,"t":-80,"n":6},{"p":-110,"t":-80,"n":2},{"p":-100,"t":-80,"n":2},{"p":-90,"t":-80,"n":6},{"p":-80,"t":-80,"n":1},{"p":-70,"t":-80,"n":4},{"p":-60,"t":-80,"n":9},{"p":-50,"t":-80,"n":6},{"p":-40,"t":-80,"n":6},{"p":-30,"t":-80,"n":6},{"p":-20,"t":-80,"n":6},{"p":-10,"t":-80,"n":1},{"p":0,"t":-80,"n":6},{"p":10,"t":-80,"n":6},{"p":20,"t":-80,"n":6},{"p":30,"t":-80,"n":4},{"p":40,"t":-80,"n":6},{"p":50,"t":-80,"n":6},{"p":60,"t":-80,"n":2},{"p":70,"t":-80,"n":6},{"p":80,"t":-80,"n":9},{"p":90,"t":-80,"n":2},{"p":100,"t":-80,"n":4},{"p":110,"t":-80,"n":2},{"p":120,"t":-80,"n":2},{"p":130,"t":-80,"n":4},{"p":140,"t":-80,"n":7},{"p":150,"t":-80,"n":9},{"p":160,"t":-80,"n":4},{"p":170,"t":-80,"n":6},
{"p":-180,"t":-90,"n":1},{"p":-170,"t":-90,"n":2},{"p":-160,"t":-90,"n":4},{"p":-150,"t":-90,"n":1},{"p":-140,"t":-90,"n":2},{"p":-130,"t":-90,"n":0},{"p":-120,"t":-90,"n":1},{"p":-110,"t":-90,"n":0},{"p":-100,"t":-90,"n":4},{"p":-90,"t":-90,"n":2},{"p":-80,"t":-90,"n":2},{"p":-70,"t":-90,"n":1},{"p":-60,"t":-90,"n":0},{"p":-50,"t":-90,"n":2},{"p":-40,"t":-90,"n":1},{"p":-30,"t":-90,"n":2},{"p":-20,"t":-90,"n":2},{"p":-10,"t":-90,"n":2},{"p":0,"t":-90,"n":0},{"p":10,"t":-90,"n":2},{"p":20,"t":-90,"n":1},{"p":30,"t":-90,"n":0},{"p":40,"t":-90,"n":1},{"p":50,"t":-90,"n":1},{"p":60,"t":-90,"n":1},{"p":70,"t":-90,"n":0},{"p":80,"t":-90,"n":0},{"p":90,"t":-90,"n":4},{"p":100,"t":-90,"n":0},{"p":110,"t":-90,"n":2},{"p":120,"t":-90,"n":1},{"p":130,"t":-90,"n":2},{"p":140,"t":-90,"n":2},{"p":150,"t":-90,"n":0},{"p":160,"t":-90,"n":4},{"p":170,"t":-90,"n":2}]},
"transform":[{"calculate":"datum.p+10","as":"p2"},{"calculate":"datum.t+10","as":"t2"}],"mark":{"type":"rect"},"encoding":{"x":{"field":"p","type":"quantitative","scale":{"domain":[-180,180],"nice":false,"zero":false},"axis":null},"x2":{"field":"p2"},"y":{"field":"t","type":"quantitative","scale":{"domain":[-90,90],"nice":false,"zero":false},"axis":null},"y2":{"field":"t2"},"color":{"field":"n","type":"quantitative","scale":{"type":"threshold","domain":[0.5,1.6,3.2,4.8,6.4,8,9.6,11.2,12.8,14.4,16,17.6,19.2,20.8,22.4,24,25.6,27.2,28.8,30.4],"range":["#ffffff","#6600ff","#3300ff","#0000ff","#0044ff","#0088ff","#00bbff","#00ffff","#00ffcc","#00ff88","#00ff44","#00ff00","#22ff00","#66ff00","#99ff00","#ddff00","#ffee00","#ffaa00","#ff7700","#ff3300","#ff0000"]},"legend":null}}},
{"data":{"values":[{"a":182.4,"b":202.7,"t":-90,"u":-81,"n":1},{"a":182.4,"b":202.7,"t":-81,"u":-72,"n":2},{"a":182.4,"b":202.7,"t":-72,"u":-63,"n":4},{"a":182.4,"b":202.7,"t":-63,"u":-54,"n":6},{"a":182.4,"b":202.7,"t":-54,"u":-45,"n":7},{"a":182.4,"b":202.7,"t":-45,"u":-36,"n":9},{"a":182.4,"b":202.7,"t":-36,"u":-27,"n":10},{"a":182.4,"b":202.7,"t":-27,"u":-18,"n":12},{"a":182.4,"b":202.7,"t":-18,"u":-9,"n":14},{"a":182.4,"b":202.7,"t":-9,"u":0,"n":15},{"a":182.4,"b":202.7,"t":0,"u":9,"n":17},{"a":182.4,"b":202.7,"t":9,"u":18,"n":18},{"a":182.4,"b":202.7,"t":18,"u":27,"n":20},{"a":182.4,"b":202.7,"t":27,"u":36,"n":22},{"a":182.4,"b":202.7,"t":36,"u":45,"n":23},{"a":182.4,"b":202.7,"t":45,"u":54,"n":25},{"a":182.4,"b":202.7,"t":54,"u":63,"n":26},{"a":182.4,"b":202.7,"t":63,"u":72,"n":28},{"a":182.4,"b":202.7,"t":72,"u":81,"n":30},{"a":182.4,"b":202.7,"t":81,"u":90,"n":31}]},"mark":{"type":"rect"},"encoding":{"x":{"field":"a","type":"quantitative","scale":{"domain":[-180,180],"nice":false,"zero":false},"axis":null},"x2":{"field":"b"},"y":{"field":"t","type":"quantitative","scale":{"domain":[-90,90],"nice":false,"zero":false},"axis":null},"y2":{"field":"u"},"color":{"field":"n","type":"quantitative","scale":{"type":"threshold","domain":[0.5,1.6,3.2,4.8,6.4,8,9.6,11.2,12.8,14.4,16,17.6,19.2,20.8,22.4,24,25.6,27.2,28.8,30.4],"range":["#ffffff","#6600ff","#3300ff","#0000ff","#0044ff","#0088ff","#00bbff","#00ffff","#00ffcc","#00ff88","#00ff44","#00ff00","#22ff00","#66ff00","#99ff00","#ddff00","#ffee00","#ffaa00","#ff7700","#ff3300","#ff0000"]},"legend":null}}},
{"data":{"values":[{"a":191.9,"b":202.7,"t":-90,"u":-90},{"a":191.9,"b":202.7,"t":-61.875,"u":-61.875},{"a":191.9,"b":202.7,"t":-33.75,"u":-33.75},{"a":191.9,"b":202.7,"t":-5.625,"u":-5.625},{"a":191.9,"b":202.7,"t":22.5,"u":22.5},{"a":191.9,"b":202.7,"t":50.625,"u":50.625},{"a":191.9,"b":202.7,"t":78.75,"u":78.75},{"a":202.7,"b":202.7,"t":-90,"u":90}]},"mark":{"type":"rule","color":"#000","strokeWidth":2},"encoding":{"x":{"field":"a","type":"quantitative","scale":{"domain":[-180,180],"nice":false,"zero":false},"axis":null},"x2":{"field":"b"},"y":{"field":"t","type":"quantitative","scale":{"domain":[-90,90],"nice":false,"zero":false},"axis":null},"y2":{"field":"u"}}},
{"data":{"values":[{"x":204.7,"y":-90,"label":"0"},{"x":204.7,"y":-61.875,"label":"5"},{"x":204.7,"y":-33.75,"label":"10"},{"x":204.7,"y":-5.625,"label":"15"},{"x":204.7,"y":22.5,"label":"20"},{"x":204.7,"y":50.625,"label":"25"},{"x":204.7,"y":78.75,"label":"30"}]},"mark":{"type":"text","align":"left","color":"#000"},"encoding":{"x":{"field":"x","type":"quantitative","scale":{"domain":[-180,180],"nice":false,"zero":false},"axis":null},"y":{"field":"y","type":"quantitative","scale":{"domain":[-90,90],"nice":false,"zero":false},"axis":null},"text":{"field":"label"}}},
{"data":{"values":[{"x":168.9,"y":100.2,"label":"Double Chooz Preliminary"}]},"mark":{"type":"text","align":"right","color":"#ff0000"},"encoding":{"x":{"field":"x","type":"quantitative","scale":{"domain":[-180,180],"nice":false,"zero":false},"axis":null},"y":{"field":"y","type":"quantitative","scale":{"domain":[-90,90],"nice":false,"zero":false},"axis":null},"text":{"field":"label"}}},
{"data":{"values":[{"p":0,"t":0}]},"mark":{"type":"point","opacity":0},"encoding":{"x":{"field":"p","type":"quantitative","scale":{"domain":[-180,180],"nice":false,"zero":false},"axis":{"orient":"bottom","values":[-150,-100,-50,0,50,100,150],"labelExpr":"replace(datum.label,'−','-')","ticks":false,"domain":false,"labelPadding":6,"title":"ϕ (°) (azimuthal)","titleAnchor":"end","titlePadding":-3}},"y":{"field":"t","type":"quantitative","scale":{"domain":[-90,90],"nice":false,"zero":false},"axis":{"orient":"left","values":[-80,-60,-40,-20,0,20,40,60,80],"labelExpr":"replace(datum.label,'−','-')","ticks":false,"domain":false,"labelPadding":6,"title":"θ (°) (zenithal)","titleAnchor":"end","titlePadding":9}}}},
{"data":{"values":[{"p":0,"t":0}]},"mark":{"type":"point","opacity":0},"encoding":{"x":{"field":"p","type":"quantitative","scale":{"domain":[-180,180],"nice":false,"zero":false},"axis":{"orient":"bottom","values":[-150,-100,-50,0,50,100,150],"labels":false,"tickSize":-18,"title":null,"zindex":1}},"y":{"field":"t","type":"quantitative","scale":{"domain":[-90,90],"nice":false,"zero":false},"axis":{"orient":"left","values":[-80,-60,-40,-20,0,20,40,60,80],"labels":false,"tickSize":-27,"title":null,"zindex":1}}}},
{"data":{"values":[{"p":0,"t":0}]},"mark":{"type":"point","opacity":0},"encoding":{"x":{"field":"p","type":"quantitative","scale":{"domain":[-180,180],"nice":false,"zero":false},"axis":{"orient":"bottom","values":[-170,-160,-140,-130,-120,-110,-90,-80,-70,-60,-40,-30,-20,-10,10,20,30,40,60,70,80,90,110,120,130,140,160,170],"labels":false,"domain":false,"tickSize":-9,"title":null,"zindex":1}},"y":{"field":"t","type":"quantitative","scale":{"domain":[-90,90],"nice":false,"zero":false},"axis":{"orient":"left","values":[-85,-75,-70,-65,-55,-50,-45,-35,-30,-25,-15,-10,-5,5,10,15,25,30,35,45,50,55,65,70,75,85],"labels":false,"domain":false,"tickSize":-14,"title":null,"zindex":1}}}},
{"data":{"values":[{"p":0,"t":0}]},"mark":{"type":"point","opacity":0},"encoding":{"x":{"field":"p","type":"quantitative","scale":{"domain":[-180,180],"nice":false,"zero":false},"axis":{"orient":"top","values":[-150,-100,-50,0,50,100,150],"labels":false,"tickSize":-18,"title":null,"zindex":1}},"y":{"field":"t","type":"quantitative","scale":{"domain":[-90,90],"nice":false,"zero":false},"axis":{"orient":"right","values":[-80,-60,-40,-20,0,20,40,60,80],"labels":false,"tickSize":-27,"title":null,"zindex":1}}}},
{"data":{"values":[{"p":0,"t":0}]},"mark":{"type":"point","opacity":0},"encoding":{"x":{"field":"p","type":"quantitative","scale":{"domain":[-180,180],"nice":false,"zero":false},"axis":{"orient":"top","values":[-170,-160,-140,-130,-120,-110,-90,-80,-70,-60,-40,-30,-20,-10,10,20,30,40,60,70,80,90,110,120,130,140,160,170],"labels":false,"domain":false,"tickSize":-9,"title":null,"zindex":1}},"y":{"field":"t","type":"quantitative","scale":{"domain":[-90,90],"nice":false,"zero":false},"axis":{"orient":"right","values":[-85,-75,-70,-65,-55,-50,-45,-35,-30,-25,-15,-10,-5,5,10,15,25,30,35,45,50,55,65,70,75,85],"labels":false,"domain":false,"tickSize":-14,"title":null,"zindex":1}}}}
]},
{"width":907,"height":616,"resolve":{"axis":{"x":"independent","y":"independent"}},"layer":[
{"data":{"values":[
{"a":-180,"b":180,"t":85,"n":1},
{"a":-180,"b":-30,"t":80,"n":2},{"a":-30,"b":-20,"t":80,"n":4},{"a":-20,"b":-5,"t":80,"n":2},{"a":-5,"b":5,"t":80,"n":4},{"a":5,"b":35,"t":80,"n":2},{"a":35,"b":40,"t":80,"n":4},{"a":40,"b":70,"t":80,"n":2},{"a":70,"b":75,"t":80,"n":4},{"a":75,"b":85,"t":80,"n":2},{"a":85,"b":90,"t":80,"n":4},{"a":90,"b":95,"t":80,"n":2},{"a":95,"b":100,"t":80,"n":4},{"a":100,"b":105,"t":80,"n":2},{"a":105,"b":115,"t":80,"n":4},{"a":115,"b":120,"t":80,"n":2},{"a":120,"b":125,"t":80,"n":4},{"a":125,"b":130,"t":80,"n":2},{"a":130,"b":135,"t":80,"n":4},{"a":135,"b":140,"t":80,"n":2},{"a":140,"b":160,"t":80,"n":4},{"a":160,"b":165,"t":80,"n":2},{"a":165,"b":170,"t":80,"n":4},{"a":170,"b":175,"t":80,"n":2},{"a":175,"b":180,"t":80,"n":4},
{"a":-180,"b":-170,"t":75,"n":4},{"a":-170,"b":-145,"t":75,"n":6},{"a":-145,"b":-130,"t":75,"n":4},{"a":-130,"b":-125,"t":75,"n":6},{"a":-125,"b":-120,"t":75,"n":4},{"a":-120,"b":-105,"t":75,"n":6},{"a":-105,"b":-100,"t":75,"n":4},{"a":-100,"b":-45,"t":75,"n":6},{"a":-45,"b":-35,"t":75,"n":4},{"a":-35,"b":-20,"t":75,"n":6},{"a":-20,"b":-15,"t":75,"n":4},{"a":-15,"b":-5,"t":75,"n":6},{"a":-5,"b":0,"t":75,"n":4},{"a":0,"b":20,"t":75,"n":6},{"a":20,"b":25,"t":75,"n":4},{"a":25,"b":40,"t":75,"n":6},{"a":40,"b":45,"t":75,"n":7},{"a":45,"b":175,"t":75,"n":6},{"a":175,"b":180,"t":75,"n":4},
{"a":-180,"b":-75,"t":70,"n":7},{"a":-75,"b":-70,"t":70,"n":6},{"a":-70,"b":-35,"t":70,"n":7},{"a":-35,"b":-30,"t":70,"n":9},{"a":-30,"b":-5,"t":70,"n":7},{"a":-5,"b":0,"t":70,"n":9},{"a":0,"b":5,"t":70,"n":7},{"a":5,"b":10,"t":70,"n":9},{"a":10,"b":20,"t":70,"n":7},{"a":20,"b":25,"t":70,"n":9},{"a":25,"b":40,"t":70,"n":7},{"a":40,"b":45,"t":70,"n":9},{"a":45,"b":50,"t":70,"n":7},{"a":50,"b":65,"t":70,"n":9},{"a":65,"b":75,"t":70,"n":7},{"a":75,"b":85,"t":70,"n":9},{"a":85,"b":90,"t":70,"n":7},{"a":90,"b":95,"t":70,"n":9},{"a":95,"b":100,"t":70,"n":7},{"a":100,"b":105,"t":70,"n":9},{"a":105,"b":110,"t":70,"n":7},{"a":110,"b":115,"t":70,"n":9},{"a":115,"b":135,"t":70,"n":7},{"a":135,"b":150,"t":70,"n":9},{"a":150,"b":155,"t":70,"n":7},{"a":155,"b":160,"t":70,"n":6},{"a":160,"b":180,"t":70,"n":7},
{"a":-180,"b":-175,"t":65,"n":9},{"a":-175,"b":-165,"t":65,"n":10},{"a":-165,"b":-160,"t":65,"n":9},{"a":-160,"b":-150,"t":65,"n":10},{"a":-150,"b":-145,"t":65,"n":9},{"a":-145,"b":-140,"t":65,"n":10},{"a":-140,"b":-110,"t":65,"n":9},{"a":-110,"b":-105,"t":65,"n":7},{"a":-105,"b":-70,"t":65,"n":9},{"a":-70,"b":-65,"t":65,"n":10},{"a":-65,"b":-50,"t":65,"n":9},{"a":-50,"b":-30,"t":65,"n":10},{"a":-30,"b":-20,"t":65,"n":9},{"a":-20,"b":-10,"t":65,"n":10},{"a":-10,"b":0,"t":65,"n":9},{"a":0,"b":5,"t":65,"n":9},{"a":5,"b":15,"t":65,"n":10},{"a":15,"b":20,"t":65,"n":9},{"a":20,"b":25,"t":65,"n":10},{"a":25,"b":30,"t":65,"n":9},{"a":30,"b":35,"t":65,"n":10},{"a":35,"b":40,"t":65,"n":9},{"a":40,"b":45,"t":65,"n":10},{"a":45,"b":50,"t":65,"n":12},{"a":50,"b":80,"t":65,"n":10},{"a":80,"b":85,"t":65,"n":9},{"a":85,"b":100,"t":65,"n":10},{"a":100,"b":120,"t":65,"n":9},{"a":120,"b":125,"t":65,"n":10},{"a":125,"b":135,"t":65,"n":9},{"a":135,"b":175,"t":65,"n":10},{"a":175,"b":180,"t":65,"n":9},
{"a":-180,"b":-165,"t":60,"n":12},{"a":-165,"b":-160,"t":60,"n":10},{"a":-160,"b":-155,"t":60,"n":14},{"a":-155,"b":-145,"t":60,"n":10},{"a":-145,"b":-140,"t":60,"n":12},{"a":-140,"b":-135,"t":60,"n":10},{"a":-135,"b":-130,"t":60,"n":12},{"a":-130,"b":-125,"t":60,"n":9},{"a":-125,"b":-70,"t":60,"n":10},{"a":-70,"b":-65,"t":60,"n":12},{"a":-65,"b":-55,"t":60,"n":10},{"a":-55,"b":-50,"t":60,"n":9},{"a":-50,"b":-40,"t":60,"n":10},{"a":-40,"b":-30,"t":60,"n":12},{"a":-30,"b":-20,"t":60,"n":10},{"a":-20,"b":-5,"t":60,"n":12},{"a":-5,"b":0,"t":60,"n":10},{"a":0,"b":5,"t":60,"n":12},{"a":5,"b":10,"t":60,"n":14},{"a":10,"b":20,"t":60,"n":12},{"a":20,"b":30,"t":60,"n":14},{"a":30,"b":40,"t":60,"n":12},{"a":40,"b":45,"t":60,"n":10},{"a":45,"b":70,"t":60,"n":12},{"a":70,"b":75,"t":60,"n":14},{"a":75,"b":80,"t":60,"n":12},{"a":80,"b":90,"t":60,"n":14},{"a":90,"b":110,"t":60,"n":12},{"a":110,"b":120,"t":60,"n":14},{"a":120,"b":125,"t":60,"n":12},{"a":125,"b":135,"t":60,"n":10},{"a":135,"b":180,"t":60,"n":12},
{"a":-180,"b":-175,"t":55,"n":14},{"a":-175,"b":-160,"t":55,"n":15},{"a":-160,"b":-135,"t":55,"n":14},{"a":-135,"b":-125,"t":55,"n":12},{"a":-125,"b":-115,"t":55,"n":14},{"a":-115,"b":-105,"t":55,"n":12},{"a":-105,"b":-100,"t":55,"n":14},{"a":-100,"b":-85,"t":55,"n":12},{"a":-85,"b":-80,"t":55,"n":14},{"a":-80,"b":-65,"t":55,"n":12},{"a":-65,"b":-60,"t":55,"n":14},{"a":-60,"b":-45,"t":55,"n":12},{"a":-45,"b":-25,"t":55,"n":14},{"a":-25,"b":-20,"t":55,"n":15},{"a":-20,"b":0,"t":55,"n":14},{"a":0,"b":15,"t":55,"n":14},{"a":15,"b":25,"t":55,"n":15},{"a":25,"b":30,"t":55,"n":14},{"a":30,"b":35,"t":55,"n":15},{"a":35,"b":40,"t":55,"n":14},{"a":40,"b":65,"t":55,"n":15},{"a":65,"b":80,"t":55,"n":14},{"a":80,"b":85,"t":55,"n":17},{"a":85,"b":90,"t":55,"n":15},{"a":90,"b":110,"t":55,"n":14},{"a":110,"b":120,"t":55,"n":15},{"a":120,"b":125,"t":55,"n":17},{"a":125,"b":130,"t":55,"n":15},{"a":130,"b":140,"t":55,"n":14},{"a":140,"b":145,"t":55,"n":15},{"a":145,"b":155,"t":55,"n":12},{"a":155,"b":160,"t":55,"n":14},{"a":160,"b":165,"t":55,"n":15},{"a":165,"b":175,"t":55,"n":14},{"a":175,"b":180,"t":55,"n":15},
{"a":-180,"b":-165,"t":50,"n":15},{"a":-165,"b":-155,"t":50,"n":14},{"a":-155,"b":-135,"t":50,"n":15},{"a":-135,"b":-125,"t":50,"n":14},{"a":-125,"b":-120,"t":50,"n":15},{"a":-120,"b":-115,"t":50,"n":14},{"a":-115,"b":-110,"t":50,"n":15},{"a":-110,"b":-105,"t":50,"n":14},{"a":-105,"b":-100,"t":50,"n":15},{"a":-100,"b":-80,"t":50,"n":14},{"a":-80,"b":-75,"t":50,"n":15},{"a":-75,"b":-60,"t":50,"n":14},{"a":-60,"b":-10,"t":50,"n":15},{"a":-10,"b":-5,"t":50,"n":17},{"a":-5,"b":0,"t":50,"n":15},{"a":0,"b":5,"t":50,"n":17},{"a":5,"b":15,"t":50,"n":15},{"a":15,"b":20,"t":50,"n":17},{"a":20,"b":25,"t":50,"n":15},{"a":25,"b":30,"t":50,"n":20},{"a":30,"b":40,"t":50,"n":17},{"a":40,"b":45,"t":50,"n":18},{"a":45,"b":50,"t":50,"n":15},{"a":50,"b":55,"t":50,"n":17},{"a":55,"b":60,"t":50,"n":15},{"a":60,"b":80,"t":50,"n":17},{"a":80,"b":85,"t":50,"n":18},{"a":85,"b":145,"t":50,"n":17},{"a":145,"b":160,"t":50,"n":15},{"a":160,"b":165,"t":50,"n":17},{"a":165,"b":180,"t":50,"n":15},
{"a":-180,"b":-165,"t":45,"n":17},{"a":-165,"b":-160,"t":45,"n":18},{"a":-160,"b":-155,"t":45,"n":15},{"a":-155,"b":-150,"t":45,"n":18},{"a":-150,"b":-140,"t":45,"n":17},{"a":-140,"b":-115,"t":45,"n":15},{"a":-115,"b":-110,"t":45,"n":17},{"a":-110,"b":-100,"t":45,"n":15},{"a":-100,"b":-95,"t":45,"n":17},{"a":-95,"b":-90,"t":45,"n":15},{"a":-90,"b":-80,"t":45,"n":17},{"a":-80,"b":-75,"t":45,"n":15},{"a":-75,"b":-70,"t":45,"n":17},{"a":-70,"b":-55,"t":45,"n":15},{"a":-55,"b":-45,"t":45,"n":17},{"a":-45,"b":-30,"t":45,"n":15},{"a":-30,"b":-15,"t":45,"n":17},{"a":-15,"b":-10,"t":45,"n":18},{"a":-10,"b":0,"t":45,"n":17},{"a":0,"b":5,"t":45,"n":17},{"a":5,"b":15,"t":45,"n":18},{"a":15,"b":20,"t":45,"n":17},{"a":20,"b":30,"t":45,"n":18},{"a":30,"b":35,"t":45,"n":20},{"a":35,"b":45,"t":45,"n":18},{"a":45,"b":65,"t":45,"n":20},{"a":65,"b":85,"t":45,"n":18},{"a":85,"b":100,"t":45,"n":20},{"a":100,"b":110,"t":45,"n":18},{"a":110,"b":125,"t":45,"n":20},{"a":125,"b":140,"t":45,"n":18},{"a":140,"b":145,"t":45,"n":17},{"a":145,"b":150,"t":45,"n":18},{"a":150,"b":180,"t":45,"n":17},
{"a":-180,"b":-175,"t":40,"n":17},{"a":-175,"b":-165,"t":40,"n":18},{"a":-165,"b":-160,"t":40,"n":17},{"a":-160,"b":-155,"t":40,"n":18},{"a":-155,"b":-150,"t":40,"n":20},{"a":-150,"b":-145,"t":40,"n":18},{"a":-145,"b":-135,"t":40,"n":17},{"a":-135,"b":-130,"t":40,"n":15},{"a":-130,"b":-120,"t":40,"n":17},{"a":-120,"b":-110,"t":40,"n":18},{"a":-110,"b":-80,"t":40,"n":17},{"a":-80,"b":-75,"t":40,"n":18},{"a":-75,"b":-70,"t":40,"n":17},{"a":-70,"b":-65,"t":40,"n":18},{"a":-65,"b":-50,"t":40,"n":17},{"a":-50,"b":-35,"t":40,"n":18},{"a":-35,"b":-30,"t":40,"n":17},{"a":-30,"b":-25,"t":40,"n":20},{"a":-25,"b":-15,"t":40,"n":18},{"a":-15,"b":-10,"t":40,"n":20},{"a":-10,"b":0,"t":40,"n":20},{"a":0,"b":5,"t":40,"n":20},{"a":5,"b":15,"t":40,"n":18},{"a":15,"b":25,"t":40,"n":20},{"a":25,"b":35,"t":40,"n":22},{"a":35,"b":40,"t":40,"n":20},{"a":40,"b":50,"t":40,"n":22},{"a":50,"b":55,"t":40,"n":20},{"a":55,"b":60,"t":40,"n":22},{"a":60,"b":80,"t":40,"n":20},{"a":80,"b":85,"t":40,"n":22},{"a":85,"b":90,"t":40,"n":20},{"a":90,"b":100,"t":40,"n":22},{"a":100,"b":135,"t":40,"n":20},{"a":135,"b":145,"t":40,"n":22},{"a":145,"b":150,"t":40,"n":18},{"a":150,"b":155,"t":40,"n":22},{"a":155,"b":160,"t":40,"n":20},{"a":160,"b":170,"t":40,"n":18},{"a":170,"b":175,"t":40,"n":20},{"a":175,"b":180,"t":40,"n":18},
{"a":-180,"b":-175,"t":35,"n":22},{"a":-175,"b":-165,"t":35,"n":20},{"a":-165,"b":-150,"t":35,"n":18},{"a":-150,"b":-145,"t":35,"n":20},{"a":-145,"b":-140,"t":35,"n":18},{"a":-140,"b":-135,"t":35,"n":17},{"a":-135,"b":-130,"t":35,"n":18},{"a":-130,"b":-125,"t":35,"n":17},{"a":-125,"b":-115,"t":35,"n":18},{"a":-115,"b":-110,"t":35,"n":17},{"a":-110,"b":-95,"t":35,"n":18},{"a":-95,"b":-90,"t":35,"n":15},{"a":-90,"b":-85,"t":35,"n":17},{"a":-85,"b":-75,"t":35,"n":18},{"a":-75,"b":-65,"t":35,"n":17},{"a":-65,"b":-55,"t":35,"n":18},{"a":-55,"b":-45,"t":35,"n":20},{"a":-45,"b":-40,"t":35,"n":18},{"a":-40,"b":-35,"t":35,"n":20},{"a":-35,"b":-30,"t":35,"n":17},{"a":-30,"b":0,"t":35,"n":20},{"a":0,"b":5,"t":35,"n":20},{"a":5,"b":10,"t":35,"n":22},{"a":10,"b":15,"t":35,"n":23},{"a":15,"b":25,"t":35,"n":20},{"a":25,"b":30,"t":35,"n":22},{"a":30,"b":35,"t":35,"n":23},{"a":35,"b":40,"t":35,"n":22},{"a":40,"b":50,"t":35,"n":23},{"a":50,"b":60,"t":35,"n":22},{"a":60,"b":70,"t":35,"n":23},{"a":70,"b":75,"t":35,"n":26},{"a":75,"b":85,"t":35,"n":23},{"a":85,"b":90,"t":35,"n":22},{"a":90,"b":95,"t":35,"n":25},{"a":95,"b":110,"t":35,"n":23},{"a":110,"b":115,"t":35,"n":22},{"a":115,"b":120,"t":35,"n":23},{"a":120,"b":125,"t":35,"n":22},{"a":125,"b":135,"t":35,"n":23},{"a":135,"b":150,"t":35,"n":22},{"a":150,"b":160,"t":35,"n":20},{"a":160,"b":165,"t":35,"n":22},{"a":165,"b":170,"t":35,"n":20},{"a":170,"b":180,"t":35,"n":18},
{"a":-180,"b":-175,"t":30,"n":20},{"a":-175,"b":-160,"t":30,"n":22},{"a":-160,"b":-145,"t":30,"n":20},{"a":-145,"b":-140,"t":30,"n":18},{"a":-140,"b":-130,"t":30,"n":20},{"a":-130,"b":-120,"t":30,"n":18},{"a":-120,"b":-115,"t":30,"n":20},{"a":-115,"b":-110,"t":30,"n":18},{"a":-110,"b":-100,"t":30,"n":20},{"a":-100,"b":-85,"t":30,"n":18},{"a":-85,"b":-80,"t":30,"n":20},{"a":-80,"b":-65,"t":30,"n":18},{"a":-65,"b":-60,"t":30,"n":22},{"a":-60,"b":-55,"t":30,"n":18},{"a":-55,"b":-25,"t":30,"n":20},{"a":-25,"b":-15,"t":30,"n":23},{"a":-15,"b":-10,"t":30,"n":22},{"a":-10,"b":-5,"t":30,"n":20},{"a":-5,"b":0,"t":30,"n":22},{"a":0,"b":5,"t":30,"n":23},{"a":5,"b":10,"t":30,"n":22},{"a":10,"b":15,"t":30,"n":23},{"a":15,"b":25,"t":30,"n":22},{"a":25,"b":55,"t":30,"n":25},{"a":55,"b":65,"t":30,"n":23},{"a":65,"b":75,"t":30,"n":25},{"a":75,"b":80,"t":30,"n":23},{"a":80,"b":85,"t":30,"n":26},{"a":85,"b":100,"t":30,"n":25},{"a":100,"b":105,"t":30,"n":23},{"a":105,"b":110,"t":30,"n":25},{"a":110,"b":115,"t":30,"n":23},{"a":115,"b":120,"t":30,"n":25},{"a":120,"b":125,"t":30,"n":23},{"a":125,"b":135,"t":30,"n":25},{"a":135,"b":140,"t":30,"n":22},{"a":140,"b":150,"t":30,"n":23},{"a":150,"b":165,"t":30,"n":22},{"a":165,"b":170,"t":30,"n":23},{"a":170,"b":175,"t":30,"n":22},{"a":175,"b":180,"t":30,"n":20},
{"a":-180,"b":-175,"t":25,"n":22},{"a":-175,"b":-160,"t":25,"n":20},{"a":-160,"b":-140,"t":25,"n":22},{"a":-140,"b":-135,"t":25,"n":23},{"a":-135,"b":-125,"t":25,"n":20},{"a":-125,"b":-120,"t":25,"n":18},{"a":-120,"b":-115,"t":25,"n":22},{"a":-115,"b":-110,"t":25,"n":17},{"a":-110,"b":-105,"t":25,"n":20},{"a":-105,"b":-100,"t":25,"n":17},{"a":-100,"b":-95,"t":25,"n":20},{"a":-95,"b":-90,"t":25,"n":18},{"a":-90,"b":-85,"t":25,"n":20},{"a":-85,"b":-80,"t":25,"n":18},{"a":-80,"b":-45,"t":25,"n":20},{"a":-45,"b":-5,"t":25,"n":22},{"a":-5,"b":0,"t":25,"n":23},{"a":0,"b":5,"t":25,"n":23},{"a":5,"b":10,"t":25,"n":22},{"a":10,"b":50,"t":25,"n":25},{"a":50,"b":55,"t":25,"n":28},{"a":55,"b":60,"t":25,"n":25},{"a":60,"b":65,"t":25,"n":28},{"a":65,"b":80,"t":25,"n":26},{"a":80,"b":85,"t":25,"n":25},{"a":85,"b":90,"t":25,"n":26},{"a":90,"b":95,"t":25,"n":25},{"a":95,"b":100,"t":25,"n":23},{"a":100,"b":105,"t":25,"n":25},{"a":105,"b":110,"t":25,"n":23},{"a":110,"b":115,"t":25,"n":25},{"a":115,"b":120,"t":25,"n":26},{"a":120,"b":125,"t":25,"n":25},{"a":125,"b":130,"t":25,"n":26},{"a":130,"b":135,"t":25,"n":25},{"a":135,"b":150,"t":25,"n":23},{"a":150,"b":160,"t":25,"n":25},{"a":160,"b":165,"t":25,"n":22},{"a":165,"b":170,"t":25,"n":23},{"a":170,"b":175,"t":25,"n":22},{"a":175,"b":180,"t":25,"n":20},
{"a":-180,"b":-175,"t":20,"n":22},{"a":-175,"b":-170,"t":20,"n":23},{"a":-170,"b":-160,"t":20,"n":22},{"a":-160,"b":-155,"t":20,"n":23},{"a":-155,"b":-150,"t":20,"n":22},{"a":-150,"b":-145,"t":20,"n":20},{"a":-145,"b":-135,"t":20,"n":22},{"a":-135,"b":-130,"t":20,"n":20},{"a":-130,"b":-125,"t":20,"n":18},{"a":-125,"b":-120,"t":20,"n":22},{"a":-120,"b":-115,"t":20,"n":20},{"a":-115,"b":-110,"t":20,"n":18},{"a":-110,"b":-105,"t":20,"n":20},{"a":-105,"b":-95,"t":20,"n":18},{"a":-95,"b":-80,"t":20,"n":20},{"a":-80,"b":-75,"t":20,"n":18},{"a":-75,"b":-70,"t":20,"n":20},{"a":-70,"b":-65,"t":20,"n":22},{"a":-65,"b":-55,"t":20,"n":20},{"a":-55,"b":-40,"t":20,"n":22},{"a":-40,"b":-35,"t":20,"n":23},{"a":-35,"b":-20,"t":20,"n":22},{"a":-20,"b":-15,"t":20,"n":25},{"a":-15,"b":-10,"t":20,"n":26},{"a":-10,"b":0,"t":20,"n":25},{"a":0,"b":5,"t":20,"n":25},{"a":5,"b":15,"t":20,"n":26},{"a":15,"b":25,"t":20,"n":25},{"a":25,"b":30,"t":20,"n":26},{"a":30,"b":45,"t":20,"n":25},{"a":45,"b":50,"t":20,"n":26},{"a":50,"b":55,"t":20,"n":25},{"a":55,"b":70,"t":20,"n":26},{"a":70,"b":75,"t":20,"n":28},{"a":75,"b":80,"t":20,"n":26},{"a":80,"b":85,"t":20,"n":25},{"a":85,"b":90,"t":20,"n":26},{"a":90,"b":95,"t":20,"n":25},{"a":95,"b":100,"t":20,"n":26},{"a":100,"b":110,"t":20,"n":28},{"a":110,"b":115,"t":20,"n":26},{"a":115,"b":120,"t":20,"n":25},{"a":120,"b":125,"t":20,"n":26},{"a":125,"b":130,"t":20,"n":25},{"a":130,"b":135,"t":20,"n":23},{"a":135,"b":140,"t":20,"n":26},{"a":140,"b":155,"t":20,"n":23},{"a":155,"b":165,"t":20,"n":25},{"a":165,"b":170,"t":20,"n":22},{"a":170,"b":175,"t":20,"n":25},{"a":175,"b":180,"t":20,"n":23},
{"a":-180,"b":-175,"t":15,"n":23},{"a":-175,"b":-170,"t":15,"n":25},{"a":-170,"b":-165,"t":15,"n":22},{"a":-165,"b":-160,"t":15,"n":23},{"a":-160,"b":-150,"t":15,"n":22},{"a":-150,"b":-145,"t":15,"n":20},{"a":-145,"b":-135,"t":15,"n":22},{"a":-135,"b":-120,"t":15,"n":20},{"a":-120,"b":-110,"t":15,"n":22},{"a":-110,"b":-95,"t":15,"n":20},{"a":-95,"b":-90,"t":15,"n":22},{"a":-90,"b":-85,"t":15,"n":20},{"a":-85,"b":-80,"t":15,"n":22},{"a":-80,"b":-75,"t":15,"n":20},{"a":-75,"b":-70,"t":15,"n":22},{"a":-70,"b":-65,"t":15,"n":20},{"a":-65,"b":-60,"t":15,"n":23},{"a":-60,"b":-55,"t":15,"n":22},{"a":-55,"b":-50,"t":15,"n":20},{"a":-50,"b":-45,"t":15,"n":25},{"a":-45,"b":-40,"t":15,"n":20},{"a":-40,"b":-30,"t":15,"n":22},{"a":-30,"b":-10,"t":15,"n":23},{"a":-10,"b":0,"t":15,"n":25},{"a":0,"b":5,"t":15,"n":26},{"a":5,"b":20,"t":15,"n":25},{"a":20,"b":30,"t":15,"n":26},{"a":30,"b":35,"t":15,"n":25},{"a":35,"b":40,"t":15,"n":26},{"a":40,"b":45,"t":15,"n":28},{"a":45,"b":55,"t":15,"n":26},{"a":55,"b":60,"t":15,"n":30},{"a":60,"b":65,"t":15,"n":28},{"a":65,"b":70,"t":15,"n":26},{"a":70,"b":85,"t":15,"n":28},{"a":85,"b":90,"t":15,"n":26},{"a":90,"b":95,"t":15,"n":30},{"a":95,"b":100,"t":15,"n":26},{"a":100,"b":105,"t":15,"n":28},{"a":105,"b":110,"t":15,"n":26},{"a":110,"b":115,"t":15,"n":28},{"a":115,"b":130,"t":15,"n":26},{"a":130,"b":135,"t":15,"n":28},{"a":135,"b":145,"t":15,"n":26},{"a":145,"b":150,"t":15,"n":28},{"a":150,"b":160,"t":15,"n":26},{"a":160,"b":165,"t":15,"n":23},{"a":165,"b":170,"t":15,"n":26},{"a":170,"b":175,"t":15,"n":25},{"a":175,"b":180,"t":15,"n":23},
{"a":-180,"b":-165,"t":10,"n":23},{"a":-165,"b":-150,"t":10,"n":22},{"a":-150,"b":-145,"t":10,"n":23},{"a":-145,"b":-120,"t":10,"n":22},{"a":-120,"b":-115,"t":10,"n":20},{"a":-115,"b":-110,"t":10,"n":22},{"a":-110,"b":-105,"t":10,"n":20},{"a":-105,"b":-100,"t":10,"n":22},{"a":-100,"b":-95,"t":10,"n":20},{"a":-95,"b":-90,"t":10,"n":22},{"a":-90,"b":-85,"t":10,"n":20},{"a":-85,"b":-80,"t":10,"n":22},{"a":-80,"b":-65,"t":10,"n":20},{"a":-65,"b":-60,"t":10,"n":23},{"a":-60,"b":-55,"t":10,"n":22},{"a":-55,"b":-45,"t":10,"n":23},{"a":-45,"b":-30,"t":10,"n":22},{"a":-30,"b":-25,"t":10,"n":23},{"a":-25,"b":-20,"t":10,"n":25},{"a":-20,"b":-15,"t":10,"n":23},{"a":-15,"b":-10,"t":10,"n":25},{"a":-10,"b":-5,"t":10,"n":23},{"a":-5,"b":0,"t":10,"n":26},{"a":0,"b":10,"t":10,"n":25},{"a":10,"b":35,"t":10,"n":26},{"a":35,"b":40,"t":10,"n":30},{"a":40,"b":45,"t":10,"n":28},{"a":45,"b":55,"t":10,"n":26},{"a":55,"b":65,"t":10,"n":30},{"a":65,"b":90,"t":10,"n":28},{"a":90,"b":105,"t":10,"n":26},{"a":105,"b":110,"t":10,"n":28},{"a":110,"b":120,"t":10,"n":26},{"a":120,"b":125,"t":10,"n":28},{"a":125,"b":135,"t":10,"n":26},{"a":135,"b":140,"t":10,"n":28},{"a":140,"b":155,"t":10,"n":26},{"a":155,"b":180,"t":10,"n":25},
{"a":-180,"b":-160,"t":5,"n":23},{"a":-160,"b":-155,"t":5,"n":22},{"a":-155,"b":-150,"t":5,"n":25},{"a":-150,"b":-140,"t":5,"n":22},{"a":-140,"b":-135,"t":5,"n":20},{"a":-135,"b":-130,"t":5,"n":22},{"a":-130,"b":-125,"t":5,"n":20},{"a":-125,"b":-110,"t":5,"n":22},{"a":-110,"b":-90,"t":5,"n":20},{"a":-90,"b":-85,"t":5,"n":22},{"a":-85,"b":-80,"t":5,"n":18},{"a":-80,"b":-75,"t":5,"n":20},{"a":-75,"b":-65,"t":5,"n":22},{"a":-65,"b":-60,"t":5,"n":23},{"a":-60,"b":-55,"t":5,"n":22},{"a":-55,"b":-50,"t":5,"n":23},{"a":-50,"b":-45,"t":5,"n":22},{"a":-45,"b":-35,"t":5,"n":23},{"a":-35,"b":-25,"t":5,"n":25},{"a":-25,"b":-15,"t":5,"n":23},{"a":-15,"b":-10,"t":5,"n":26},{"a":-10,"b":-5,"t":5,"n":25},{"a":-5,"b":0,"t":5,"n":26},{"a":0,"b":5,"t":5,"n":26},{"a":5,"b":10,"t":5,"n":25},{"a":10,"b":20,"t":5,"n":28},{"a":20,"b":30,"t":5,"n":26},{"a":30,"b":40,"t":5,"n":28},{"a":40,"b":45,"t":5,"n":26},{"a":45,"b":50,"t":5,"n":31},{"a":50,"b":55,"t":5,"n":28},{"a":55,"b":60,"t":5,"n":31},{"a":60,"b":65,"t":5,"n":26},{"a":65,"b":70,"t":5,"n":28},{"a":70,"b":75,"t":5,"n":30},{"a":75,"b":80,"t":5,"n":31},{"a":80,"b":85,"t":5,"n":30},{"a":85,"b":95,"t":5,"n":28},{"a":95,"b":100,"t":5,"n":30},{"a":100,"b":110,"t":5,"n":28},{"a":110,"b":115,"t":5,"n":30},{"a":115,"b":130,"t":5,"n":28},{"a":130,"b":135,"t":5,"n":26},{"a":135,"b":140,"t":5,"n":25},{"a":140,"b":155,"t":5,"n":26},{"a":155,"b":160,"t":5,"n":28},{"a":160,"b":165,"t":5,"n":26},{"a":165,"b":180,"t":5,"n":25},
{"a":-180,"b":-170,"t":0,"n":23},{"a":-170,"b":-165,"t":0,"n":25},{"a":-165,"b":-155,"t":0,"n":23},{"a":-155,"b":-145,"t":0,"n":22},{"a":-145,"b":-140,"t":0,"n":20},{"a":-140,"b":-130,"t":0,"n":22},{"a":-130,"b":-125,"t":0,"n":23},{"a":-125,"b":-120,"t":0,"n":20},{"a":-120,"b":-115,"t":0,"n":22},{"a":-115,"b":-110,"t":0,"n":23},{"a":-110,"b":-105,"t":0,"n":22},{"a":-105,"b":-100,"t":0,"n":20},{"a":-100,"b":-95,"t":0,"n":22},{"a":-95,"b":-90,"t":0,"n":23},{"a":-90,"b":-70,"t":0,"n":22},{"a":-70,"b":-65,"t":0,"n":20},{"a":-65,"b":-60,"t":0,"n":23},{"a":-60,"b":-50,"t":0,"n":22},{"a":-50,"b":-45,"t":0,"n":23},{"a":-45,"b":-40,"t":0,"n":22},{"a":-40,"b":-15,"t":0,"n":23},{"a":-15,"b":-10,"t":0,"n":26},{"a":-10,"b":-5,"t":0,"n":25},{"a":-5,"b":0,"t":0,"n":28},{"a":0,"b":5,"t":0,"n":23},{"a":5,"b":25,"t":0,"n":26},{"a":25,"b":30,"t":0,"n":25},{"a":30,"b":35,"t":0,"n":26},{"a":35,"b":40,"t":0,"n":28},{"a":40,"b":45,"t":0,"n":30},{"a":45,"b":50,"t":0,"n":28},{"a":50,"b":65,"t":0,"n":30},{"a":65,"b":70,"t":0,"n":28},{"a":70,"b":75,"t":0,"n":30},{"a":75,"b":80,"t":0,"n":28},{"a":80,"b":90,"t":0,"n":30},{"a":90,"b":95,"t":0,"n":28},{"a":95,"b":100,"t":0,"n":30},{"a":100,"b":105,"t":0,"n":26},{"a":105,"b":115,"t":0,"n":30},{"a":115,"b":135,"t":0,"n":28},{"a":135,"b":145,"t":0,"n":26},{"a":145,"b":150,"t":0,"n":28},{"a":150,"b":160,"t":0,"n":25},{"a":160,"b":170,"t":0,"n":26},{"a":170,"b":180,"t":0,"n":23},
{"a":-180,"b":-170,"t":-5,"n":23},{"a":-170,"b":-165,"t":-5,"n":25},{"a":-165,"b":-155,"t":-5,"n":23},{"a":-155,"b":-150,"t":-5,"n":20},{"a":-150,"b":-145,"t":-5,"n":23},{"a":-145,"b":-140,"t":-5,"n":22},{"a":-140,"b":-135,"t":-5,"n":20},{"a":-135,"b":-130,"t":-5,"n":22},{"a":-130,"b":-125,"t":-5,"n":23},{"a":-125,"b":-115,"t":-5,"n":22},{"a":-115,"b":-110,"t":-5,"n":23},{"a":-110,"b":-105,"t":-5,"n":20},{"a":-105,"b":-100,"t":-5,"n":22},{"a":-100,"b":-95,"t":-5,"n":18},{"a":-95,"b":-90,"t":-5,"n":20},{"a":-90,"b":-75,"t":-5,"n":22},{"a":-75,"b":-70,"t":-5,"n":23},{"a":-70,"b":-65,"t":-5,"n":20},{"a":-65,"b":-55,"t":-5,"n":22},{"a":-55,"b":-35,"t":-5,"n":23},{"a":-35,"b":-25,"t":-5,"n":25},{"a":-25,"b":-20,"t":-5,"n":22},{"a":-20,"b":-10,"t":-5,"n":25},{"a":-10,"b":-5,"t":-5,"n":26},{"a":-5,"b":0,"t":-5,"n":25},{"a":0,"b":5,"t":-5,"n":26},{"a":5,"b":10,"t":-5,"n":25},{"a":10,"b":15,"t":-5,"n":28},{"a":15,"b":20,"t":-5,"n":26},{"a":20,"b":35,"t":-5,"n":28},{"a":35,"b":45,"t":-5,"n":30},{"a":45,"b":50,"t":-5,"n":26},{"a":50,"b":60,"t":-5,"n":28},{"a":60,"b":65,"t":-5,"n":31},{"a":65,"b":70,"t":-5,"n":28},{"a":70,"b":80,"t":-5,"n":30},{"a":80,"b":85,"t":-5,"n":28},{"a":85,"b":90,"t":-5,"n":30},{"a":90,"b":95,"t":-5,"n":26},{"a":95,"b":120,"t":-5,"n":30},{"a":120,"b":125,"t":-5,"n":28},{"a":125,"b":130,"t":-5,"n":26},{"a":130,"b":135,"t":-5,"n":25},{"a":135,"b":140,"t":-5,"n":28},{"a":140,"b":145,"t":-5,"n":30},{"a":145,"b":150,"t":-5,"n":26},{"a":150,"b":155,"t":-5,"n":28},{"a":155,"b":165,"t":-5,"n":26},{"a":165,"b":180,"t":-5,"n":25},
{"a":-180,"b":-175,"t":-10,"n":23},{"a":-175,"b":-170,"t":-10,"n":25},{"a":-170,"b":-160,"t":-10,"n":23},{"a":-160,"b":-155,"t":-10,"n":25},{"a":-155,"b":-150,"t":-10,"n":20},{"a":-150,"b":-145,"t":-10,"n":22},{"a":-145,"b":-140,"t":-10,"n":23},{"a":-140,"b":-130,"t":-10,"n":22},{"a":-130,"b":-125,"t":-10,"n":23},{"a":-125,"b":-110,"t":-10,"n":22},{"a":-110,"b":-100,"t":-10,"n":20},{"a":-100,"b":-95,"t":-10,"n":22},{"a":-95,"b":-90,"t":-10,"n":20},{"a":-90,"b":-85,"t":-10,"n":22},{"a":-85,"b":-75,"t":-10,"n":20},{"a":-75,"b":-55,"t":-10,"n":22},{"a":-55,"b":-40,"t":-10,"n":23},{"a":-40,"b":-35,"t":-10,"n":22},{"a":-35,"b":-30,"t":-10,"n":23},{"a":-30,"b":-25,"t":-10,"n":22},{"a":-25,"b":-20,"t":-10,"n":23},{"a":-20,"b":-15,"t":-10,"n":26},{"a":-15,"b":0,"t":-10,"n":25},{"a":0,"b":5,"t":-10,"n":25},{"a":5,"b":10,"t":-10,"n":23},{"a":10,"b":20,"t":-10,"n":26},{"a":20,"b":25,"t":-10,"n":28},{"a":25,"b":30,"t":-10,"n":26},{"a":30,"b":35,"t":-10,"n":28},{"a":35,"b":40,"t":-10,"n":30},{"a":40,"b":50,"t":-10,"n":28},{"a":50,"b":55,"t":-10,"n":26},{"a":55,"b":60,"t":-10,"n":30},{"a":60,"b":75,"t":-10,"n":28},{"a":75,"b":80,"t":-10,"n":30},{"a":80,"b":85,"t":-10,"n":28},{"a":85,"b":95,"t":-10,"n":30},{"a":95,"b":105,"t":-10,"n":28},{"a":105,"b":115,"t":-10,"n":30},{"a":115,"b":120,"t":-10,"n":28},{"a":120,"b":125,"t":-10,"n":26},{"a":125,"b":130,"t":-10,"n":30},{"a":130,"b":140,"t":-10,"n":28},{"a":140,"b":145,"t":-10,"n":25},{"a":145,"b":165,"t":-10,"n":26},{"a":165,"b":170,"t":-10,"n":25},{"a":170,"b":175,"t":-10,"n":23},{"a":175,"b":180,"t":-10,"n":25},
{"a":-180,"b":-170,"t":-15,"n":23},{"a":-170,"b":-165,"t":-15,"n":25},{"a":-165,"b":-160,"t":-15,"n":22},{"a":-160,"b":-150,"t":-15,"n":23},{"a":-150,"b":-145,"t":-15,"n":25},{"a":-145,"b":-140,"t":-15,"n":23},{"a":-140,"b":-135,"t":-15,"n":22},{"a":-135,"b":-125,"t":-15,"n":23},{"a":-125,"b":-120,"t":-15,"n":22},{"a":-120,"b":-115,"t":-15,"n":20},{"a":-115,"b":-110,"t":-15,"n":23},{"a":-110,"b":-105,"t":-15,"n":20},{"a":-105,"b":-100,"t":-15,"n":22},{"a":-100,"b":-80,"t":-15,"n":20},{"a":-80,"b":-75,"t":-15,"n":23},{"a":-75,"b":-70,"t":-15,"n":22},{"a":-70,"b":-65,"t":-15,"n":18},{"a":-65,"b":-55,"t":-15,"n":22},{"a":-55,"b":-50,"t":-15,"n":23},{"a":-50,"b":-40,"t":-15,"n":22},{"a":-40,"b":-35,"t":-15,"n":23},{"a":-35,"b":-30,"t":-15,"n":25},{"a":-30,"b":-25,"t":-15,"n":20},{"a":-25,"b":-5,"t":-15,"n":23},{"a":-5,"b":0,"t":-15,"n":25},{"a":0,"b":5,"t":-15,"n":25},{"a":5,"b":10,"t":-15,"n":26},{"a":10,"b":15,"t":-15,"n":25},{"a":15,"b":20,"t":-15,"n":28},{"a":20,"b":25,"t":-15,"n":26},{"a":25,"b":40,"t":-15,"n":28},{"a":40,"b":45,"t":-15,"n":25},{"a":45,"b":50,"t":-15,"n":30},{"a":50,"b":65,"t":-15,"n":28},{"a":65,"b":70,"t":-15,"n":30},{"a":70,"b":75,"t":-15,"n":28},{"a":75,"b":85,"t":-15,"n":30},{"a":85,"b":90,"t":-15,"n":28},{"a":90,"b":105,"t":-15,"n":30},{"a":105,"b":110,"t":-15,"n":28},{"a":110,"b":115,"t":-15,"n":26},{"a":115,"b":135,"t":-15,"n":28},{"a":135,"b":140,"t":-15,"n":25},{"a":140,"b":160,"t":-15,"n":26},{"a":160,"b":170,"t":-15,"n":23},{"a":170,"b":180,"t":-15,"n":25},
{"a":-180,"b":-175,"t":-20,"n":25},{"a":-175,"b":-170,"t":-20,"n":22},{"a":-170,"b":-165,"t":-20,"n":23},{"a":-165,"b":-160,"t":-20,"n":22},{"a":-160,"b":-155,"t":-20,"n":20},{"a":-155,"b":-150,"t":-20,"n":23},{"a":-150,"b":-145,"t":-20,"n":22},{"a":-145,"b":-135,"t":-20,"n":20},{"a":-135,"b":-130,"t":-20,"n":22},{"a":-130,"b":-125,"t":-20,"n":23},{"a":-125,"b":-115,"t":-20,"n":20},{"a":-115,"b":-110,"t":-20,"n":23},{"a":-110,"b":-100,"t":-20,"n":18},{"a":-100,"b":-95,"t":-20,"n":22},{"a":-95,"b":-90,"t":-20,"n":20},{"a":-90,"b":-85,"t":-20,"n":18},{"a":-85,"b":-80,"t":-20,"n":20},{"a":-80,"b":-75,"t":-20,"n":22},{"a":-75,"b":-70,"t":-20,"n":20},{"a":-70,"b":-65,"t":-20,"n":22},{"a":-65,"b":-45,"t":-20,"n":20},{"a":-45,"b":-30,"t":-20,"n":22},{"a":-30,"b":-25,"t":-20,"n":25},{"a":-25,"b":-20,"t":-20,"n":23},{"a":-20,"b":-15,"t":-20,"n":25},{"a":-15,"b":-10,"t":-20,"n":26},{"a":-10,"b":-5,"t":-20,"n":25},{"a":-5,"b":0,"t":-20,"n":26},{"a":0,"b":5,"t":-20,"n":26},{"a":5,"b":15,"t":-20,"n":25},{"a":15,"b":20,"t":-20,"n":26},{"a":20,"b":25,"t":-20,"n":25},{"a":25,"b":35,"t":-20,"n":26},{"a":35,"b":40,"t":-20,"n":25},{"a":40,"b":45,"t":-20,"n":26},{"a":45,"b":50,"t":-20,"n":30},{"a":50,"b":55,"t":-20,"n":28},{"a":55,"b":60,"t":-20,"n":26},{"a":60,"b":65,"t":-20,"n":28},{"a":65,"b":80,"t":-20,"n":26},{"a":80,"b":105,"t":-20,"n":28},{"a":105,"b":110,"t":-20,"n":30},{"a":110,"b":125,"t":-20,"n":28},{"a":125,"b":145,"t":-20,"n":26},{"a":145,"b":175,"t":-20,"n":25},{"a":175,"b":180,"t":-20,"n":22},
{"a":-180,"b":-175,"t":-25,"n":22},{"a":-175,"b":-170,"t":-25,"n":23},{"a":-170,"b":-165,"t":-25,"n":25},{"a":-165,"b":-160,"t":-25,"n":23},{"a":-160,"b":-155,"t":-25,"n":22},{"a":-155,"b":-150,"t":-25,"n":23},{"a":-150,"b":-145,"t":-25,"n":22},{"a":-145,"b":-120,"t":-25,"n":20},{"a":-120,"b":-115,"t":-25,"n":18},{"a":-115,"b":-85,"t":-25,"n":20},{"a":-85,"b":-80,"t":-25,"n":20},{"a":-80,"b":-75,"t":-25,"n":22},{"a":-75,"b":-70,"t":-25,"n":20},{"a":-70,"b":-50,"t":-25,"n":22},{"a":-50,"b":-45,"t":-25,"n":20},{"a":-45,"b":-40,"t":-25,"n":23},{"a":-40,"b":-25,"t":-25,"n":22},{"a":-25,"b":-20,"t":-25,"n":23},{"a":-20,"b":-15,"t":-25,"n":20},{"a":-15,"b":0,"t":-25,"n":23},{"a":0,"b":5,"t":-25,"n":25},{"a":5,"b":10,"t":-25,"n":22},{"a":10,"b":30,"t":-25,"n":25},{"a":30,"b":45,"t":-25,"n":26},{"a":45,"b":55,"t":-25,"n":28},{"a":55,"b":60,"t":-25,"n":26},{"a":60,"b":65,"t":-25,"n":28},{"a":65,"b":70,"t":-25,"n":26},{"a":70,"b":80,"t":-25,"n":28},{"a":80,"b":85,"t":-25,"n":26},{"a":85,"b":90,"t":-25,"n":30},{"a":90,"b":95,"t":-25,"n":26},{"a":95,"b":100,"t":-25,"n":25},{"a":100,"b":110,"t":-25,"n":26},{"a":110,"b":115,"t":-25,"n":28},{"a":115,"b":125,"t":-25,"n":26},{"a":125,"b":130,"t":-25,"n":28},{"a":130,"b":135,"t":-25,"n":25},{"a":135,"b":140,"t":-25,"n":26},{"a":140,"b":145,"t":-25,"n":25},{"a":145,"b":150,"t":-25,"n":26},{"a":150,"b":160,"t":-25,"n":23},{"a":160,"b":165,"t":-25,"n":25},{"a":165,"b":175,"t":-25,"n":23},{"a":175,"b":180,"t":-25,"n":22},
{"a":-180,"b":-160,"t":-30,"n":22},{"a":-160,"b":-150,"t":-30,"n":20},{"a":-150,"b":-140,"t":-30,"n":18},{"a":-140,"b":-95,"t":-30,"n":20},{"a":-95,"b":-90,"t":-30,"n":18},{"a":-90,"b":-85,"t":-30,"n":22},{"a":-85,"b":-80,"t":-30,"n":20},{"a":-80,"b":-75,"t":-30,"n":18},{"a":-75,"b":-45,"t":-30,"n":20},{"a":-45,"b":-40,"t":-30,"n":22},{"a":-40,"b":-30,"t":-30,"n":20},{"a":-30,"b":-20,"t":-30,"n":22},{"a":-20,"b":-10,"t":-30,"n":23},{"a":-10,"b":-5,"t":-30,"n":22},{"a":-5,"b":0,"t":-30,"n":25},{"a":0,"b":5,"t":-30,"n":25},{"a":5,"b":10,"t":-30,"n":23},{"a":10,"b":40,"t":-30,"n":25},{"a":40,"b":45,"t":-30,"n":26},{"a":45,"b":50,"t":-30,"n":25},{"a":50,"b":55,"t":-30,"n":23},{"a":55,"b":75,"t":-30,"n":25},{"a":75,"b":80,"t":-30,"n":28},{"a":80,"b":85,"t":-30,"n":23},{"a":85,"b":90,"t":-30,"n":26},{"a":90,"b":95,"t":-30,"n":28},{"a":95,"b":105,"t":-30,"n":26},{"a":105,"b":110,"t":-30,"n":23},{"a":110,"b":140,"t":-30,"n":25},{"a":140,"b":145,"t":-30,"n":22},{"a":145,"b":155,"t":-30,"n":23},{"a":155,"b":160,"t":-30,"n":22},{"a":160,"b":165,"t":-30,"n":23},{"a":165,"b":170,"t":-30,"n":22},{"a":170,"b":180,"t":-30,"n":23},
{"a":-180,"b":-170,"t":-35,"n":22},{"a":-170,"b":-165,"t":-35,"n":20},{"a":-165,"b":-160,"t":-35,"n":22},{"a":-160,"b":-155,"t":-35,"n":18},{"a":-155,"b":-140,"t":-35,"n":20},{"a":-140,"b":-135,"t":-35,"n":18},{"a":-135,"b":-130,"t":-35,"n":20},{"a":-130,"b":-120,"t":-35,"n":18},{"a":-120,"b":-115,"t":-35,"n":20},{"a":-115,"b":-105,"t":-35,"n":18},{"a":-105,"b":-100,"t":-35,"n":20},{"a":-100,"b":-95,"t":-35,"n":17},{"a":-95,"b":-90,"t":-35,"n":18},{"a":-90,"b":-75,"t":-35,"n":20},{"a":-75,"b":-65,"t":-35,"n":18},{"a":-65,"b":-60,"t":-35,"n":20},{"a":-60,"b":-45,"t":-35,"n":18},{"a":-45,"b":-30,"t":-35,"n":20},{"a":-30,"b":-25,"t":-35,"n":18},{"a":-25,"b":-15,"t":-35,"n":20},{"a":-15,"b":-5,"t":-35,"n":22},{"a":-5,"b":0,"t":-35,"n":20},{"a":0,"b":20,"t":-35,"n":23},{"a":20,"b":25,"t":-35,"n":22},{"a":25,"b":30,"t":-35,"n":23},{"a":30,"b":35,"t":-35,"n":22},{"a":35,"b":40,"t":-35,"n":23},{"a":40,"b":50,"t":-35,"n":25},{"a":50,"b":60,"t":-35,"n":23},{"a":60,"b":65,"t":-35,"n":25},{"a":65,"b":75,"t":-35,"n":23},{"a":75,"b":80,"t":-35,"n":25},{"a":80,"b":85,"t":-35,"n":23},{"a":85,"b":95,"t":-35,"n":26},{"a":95,"b":100,"t":-35,"n":25},{"a":100,"b":105,"t":-35,"n":23},{"a":105,"b":110,"t":-35,"n":25},{"a":110,"b":115,"t":-35,"n":23},{"a":115,"b":120,"t":-35,"n":25},{"a":120,"b":125,"t":-35,"n":23},{"a":125,"b":135,"t":-35,"n":25},{"a":135,"b":140,"t":-35,"n":23},{"a":140,"b":145,"t":-35,"n":25},{"a":145,"b":165,"t":-35,"n":23},{"a":165,"b":180,"t":-35,"n":20},
{"a":-180,"b":-175,"t":-40,"n":22},{"a":-175,"b":-150,"t":-40,"n":18},{"a":-150,"b":-145,"t":-40,"n":20},{"a":-145,"b":-140,"t":-40,"n":17},{"a":-140,"b":-115,"t":-40,"n":18},{"a":-115,"b":-95,"t":-40,"n":17},{"a":-95,"b":-85,"t":-40,"n":18},{"a":-85,"b":-75,"t":-40,"n":17},{"a":-75,"b":-60,"t":-40,"n":18},{"a":-60,"b":-55,"t":-40,"n":17},{"a":-55,"b":-50,"t":-40,"n":20},{"a":-50,"b":-45,"t":-40,"n":17},{"a":-45,"b":-40,"t":-40,"n":22},{"a":-40,"b":-15,"t":-40,"n":18},{"a":-15,"b":-10,"t":-40,"n":20},{"a":-10,"b":0,"t":-40,"n":22},{"a":0,"b":5,"t":-40,"n":22},{"a":5,"b":10,"t":-40,"n":20},{"a":10,"b":40,"t":-40,"n":22},{"a":40,"b":45,"t":-40,"n":25},{"a":45,"b":50,"t":-40,"n":23},{"a":50,"b":60,"t":-40,"n":22},{"a":60,"b":65,"t":-40,"n":23},{"a":65,"b":75,"t":-40,"n":22},{"a":75,"b":80,"t":-40,"n":23},{"a":80,"b":85,"t":-40,"n":20},{"a":85,"b":90,"t":-40,"n":25},{"a":90,"b":95,"t":-40,"n":22},{"a":95,"b":100,"t":-40,"n":25},{"a":100,"b":105,"t":-40,"n":23},{"a":105,"b":115,"t":-40,"n":22},{"a":115,"b":120,"t":-40,"n":23},{"a":120,"b":125,"t":-40,"n":22},{"a":125,"b":130,"t":-40,"n":23},{"a":130,"b":145,"t":-40,"n":22},{"a":145,"b":150,"t":-40,"n":20},{"a":150,"b":155,"t":-40,"n":22},{"a":155,"b":160,"t":-40,"n":20},{"a":160,"b":165,"t":-40,"n":22},{"a":165,"b":180,"t":-40,"n":20},
{"a":-180,"b":-155,"t":-45,"n":18},{"a":-155,"b":-150,"t":-45,"n":17},{"a":-150,"b":-145,"t":-45,"n":20},{"a":-145,"b":-140,"t":-45,"n":18},{"a":-140,"b":-125,"t":-45,"n":17},{"a":-125,"b":-120,"t":-45,"n":15},{"a":-120,"b":-105,"t":-45,"n":17},{"a":-105,"b":-100,"t":-45,"n":15},{"a":-100,"b":-95,"t":-45,"n":17},{"a":-95,"b":-90,"t":-45,"n":15},{"a":-90,"b":-60,"t":-45,"n":17},{"a":-60,"b":-50,"t":-45,"n":18},{"a":-50,"b":-45,"t":-45,"n":17},{"a":-45,"b":-40,"t":-45,"n":18},{"a":-40,"b":-35,"t":-45,"n":17},{"a":-35,"b":-30,"t":-45,"n":18},{"a":-30,"b":-25,"t":-45,"n":17},{"a":-25,"b":-20,"t":-45,"n":20},{"a":-20,"b":-5,"t":-45,"n":18},{"a":-5,"b":0,"t":-45,"n":20},{"a":0,"b":15,"t":-45,"n":20},{"a":15,"b":20,"t":-45,"n":22},{"a":20,"b":35,"t":-45,"n":20},{"a":35,"b":45,"t":-45,"n":22},{"a":45,"b":60,"t":-45,"n":20},{"a":60,"b":65,"t":-45,"n":22},{"a":65,"b":70,"t":-45,"n":23},{"a":70,"b":105,"t":-45,"n":22},{"a":105,"b":130,"t":-45,"n":20},{"a":130,"b":135,"t":-45,"n":22},{"a":135,"b":145,"t":-45,"n":20},{"a":145,"b":155,"t":-45,"n":18},{"a":155,"b":160,"t":-45,"n":20},{"a":160,"b":165,"t":-45,"n":17},{"a":165,"b":170,"t":-45,"n":20},{"a":170,"b":175,"t":-45,"n":17},{"a":175,"b":180,"t":-45,"n":20},
{"a":-180,"b":-150,"t":-50,"n":17},{"a":-150,"b":-130,"t":-50,"n":15},{"a":-130,"b":-125,"t":-50,"n":14},{"a":-125,"b":-120,"t":-50,"n":15},{"a":-120,"b":-115,"t":-50,"n":14},{"a":-115,"b":-105,"t":-50,"n":15},{"a":-105,"b":-90,"t":-50,"n":17},{"a":-90,"b":-70,"t":-50,"n":15},{"a":-70,"b":-65,"t":-50,"n":17},{"a":-65,"b":-60,"t":-50,"n":15},{"a":-60,"b":-55,"t":-50,"n":17},{"a":-55,"b":-45,"t":-50,"n":15},{"a":-45,"b":-30,"t":-50,"n":17},{"a":-30,"b":-25,"t":-50,"n":18},{"a":-25,"b":0,"t":-50,"n":17},{"a":0,"b":5,"t":-50,"n":17},{"a":5,"b":15,"t":-50,"n":18},{"a":15,"b":20,"t":-50,"n":20},{"a":20,"b":25,"t":-50,"n":18},{"a":25,"b":30,"t":-50,"n":17},{"a":30,"b":35,"t":-50,"n":20},{"a":35,"b":45,"t":-50,"n":18},{"a":45,"b":55,"t":-50,"n":20},{"a":55,"b":60,"t":-50,"n":17},{"a":60,"b":65,"t":-50,"n":20},{"a":65,"b":85,"t":-50,"n":18},{"a":85,"b":100,"t":-50,"n":20},{"a":100,"b":110,"t":-50,"n":18},{"a":110,"b":115,"t":-50,"n":20},{"a":115,"b":120,"t":-50,"n":17},{"a":120,"b":125,"t":-50,"n":20},{"a":125,"b":135,"t":-50,"n":18},{"a":135,"b":140,"t":-50,"n":17},{"a":140,"b":145,"t":-50,"n":20},{"a":145,"b":165,"t":-50,"n":18},{"a":165,"b":180,"t":-50,"n":17},
{"a":-180,"b":-170,"t":-55,"n":15},{"a":-170,"b":-165,"t":-55,"n":14},{"a":-165,"b":-150,"t":-55,"n":15},{"a":-150,"b":-145,"t":-55,"n":14},{"a":-145,"b":-135,"t":-55,"n":15},{"a":-135,"b":-130,"t":-55,"n":14},{"a":-130,"b":-120,"t":-55,"n":15},{"a":-120,"b":-65,"t":-55,"n":14},{"a":-65,"b":-55,"t":-55,"n":15},{"a":-55,"b":-50,"t":-55,"n":14},{"a":-50,"b":-45,"t":-55,"n":15},{"a":-45,"b":-40,"t":-55,"n":14},{"a":-40,"b":-30,"t":-55,"n":15},{"a":-30,"b":-25,"t":-55,"n":14},{"a":-25,"b":-10,"t":-55,"n":15},{"a":-10,"b":0,"t":-55,"n":17},{"a":0,"b":10,"t":-55,"n":15},{"a":10,"b":30,"t":-55,"n":17},{"a":30,"b":35,"t":-55,"n":15},{"a":35,"b":40,"t":-55,"n":18},{"a":40,"b":55,"t":-55,"n":17},{"a":55,"b":60,"t":-55,"n":18},{"a":60,"b":65,"t":-55,"n":17},{"a":65,"b":70,"t":-55,"n":15},{"a":70,"b":75,"t":-55,"n":18},{"a":75,"b":85,"t":-55,"n":17},{"a":85,"b":90,"t":-55,"n":18},{"a":90,"b":95,"t":-55,"n":20},{"a":95,"b":105,"t":-55,"n":17},{"a":105,"b":110,"t":-55,"n":15},{"a":110,"b":150,"t":-55,"n":17},{"a":150,"b":155,"t":-55,"n":15},{"a":155,"b":160,"t":-55,"n":18},{"a":160,"b":165,"t":-55,"n":15},{"a":165,"b":170,"t":-55,"n":17},{"a":170,"b":180,"t":-55,"n":15},
{"a":-180,"b":-160,"t":-60,"n":14},{"a":-160,"b":-155,"t":-60,"n":12},{"a":-155,"b":-145,"t":-60,"n":14},{"a":-145,"b":-125,"t":-60,"n":12},{"a":-125,"b":-120,"t":-60,"n":14},{"a":-120,"b":-95,"t":-60,"n":12},{"a":-95,"b":-90,"t":-60,"n":14},{"a":-90,"b":-80,"t":-60,"n":12},{"a":-80,"b":-75,"t":-60,"n":14},{"a":-75,"b":-70,"t":-60,"n":12},{"a":-70,"b":-65,"t":-60,"n":14},{"a":-65,"b":-55,"t":-60,"n":10},{"a":-55,"b":-40,"t":-60,"n":12},{"a":-40,"b":-30,"t":-60,"n":14},{"a":-30,"b":-25,"t":-60,"n":12},{"a":-25,"b":0,"t":-60,"n":14},{"a":0,"b":5,"t":-60,"n":14},{"a":5,"b":15,"t":-60,"n":15},{"a":15,"b":30,"t":-60,"n":14},{"a":30,"b":40,"t":-60,"n":15},{"a":40,"b":45,"t":-60,"n":14},{"a":45,"b":50,"t":-60,"n":15},{"a":50,"b":55,"t":-60,"n":14},{"a":55,"b":95,"t":-60,"n":15},{"a":95,"b":100,"t":-60,"n":14},{"a":100,"b":130,"t":-60,"n":15},{"a":130,"b":135,"t":-60,"n":14},{"a":135,"b":140,"t":-60,"n":15},{"a":140,"b":145,"t":-60,"n":14},{"a":145,"b":155,"t":-60,"n":15},{"a":155,"b":170,"t":-60,"n":14},{"a":170,"b":175,"t":-60,"n":15},{"a":175,"b":180,"t":-60,"n":14},
{"a":-180,"b":-165,"t":-65,"n":12},{"a":-165,"b":-155,"t":-65,"n":10},{"a":-155,"b":-135,"t":-65,"n":12},{"a":-135,"b":-125,"t":-65,"n":10},{"a":-125,"b":-115,"t":-65,"n":12},{"a":-115,"b":-110,"t":-65,"n":10},{"a":-110,"b":-100,"t":-65,"n":12},{"a":-100,"b":-95,"t":-65,"n":10},{"a":-95,"b":-90,"t":-65,"n":14},{"a":-90,"b":-85,"t":-65,"n":10},{"a":-85,"b":-80,"t":-65,"n":12},{"a":-80,"b":-70,"t":-65,"n":10},{"a":-70,"b":-55,"t":-65,"n":12},{"a":-55,"b":-45,"t":-65,"n":10},{"a":-45,"b":-40,"t":-65,"n":12},{"a":-40,"b":-30,"t":-65,"n":10},{"a":-30,"b":-25,"t":-65,"n":12},{"a":-25,"b":-20,"t":-65,"n":10},{"a":-20,"b":-15,"t":-65,"n":12},{"a":-15,"b":-10,"t":-65,"n":14},{"a":-10,"b":0,"t":-65,"n":12},{"a":0,"b":10,"t":-65,"n":12},{"a":10,"b":15,"t":-65,"n":10},{"a":15,"b":30,"t":-65,"n":12},{"a":30,"b":35,"t":-65,"n":14},{"a":35,"b":45,"t":-65,"n":12},{"a":45,"b":50,"t":-65,"n":14},{"a":50,"b":70,"t":-65,"n":12},{"a":70,"b":80,"t":-65,"n":14},{"a":80,"b":90,"t":-65,"n":12},{"a":90,"b":100,"t":-65,"n":14},{"a":100,"b":105,"t":-65,"n":12},{"a":105,"b":110,"t":-65,"n":14},{"a":110,"b":120,"t":-65,"n":12},{"a":120,"b":125,"t":-65,"n":14},{"a":125,"b":130,"t":-65,"n":12},{"a":130,"b":135,"t":-65,"n":14},{"a":135,"b":140,"t":-65,"n":10},{"a":140,"b":180,"t":-65,"n":12},
{"a":-180,"b":-175,"t":-70,"n":10},{"a":-175,"b":-170,"t":-70,"n":9},{"a":-170,"b":-165,"t":-70,"n":10},{"a":-165,"b":-130,"t":-70,"n":9},{"a":-130,"b":-125,"t":-70,"n":10},{"a":-125,"b":-110,"t":-70,"n":9},{"a":-110,"b":-105,"t":-70,"n":10},{"a":-105,"b":-60,"t":-70,"n":9},{"a":-60,"b":-45,"t":-70,"n":10},{"a":-45,"b":-30,"t":-70,"n":9},{"a":-30,"b":-20,"t":-70,"n":10},{"a":-20,"b":-10,"t":-70,"n":9},{"a":-10,"b":0,"t":-70,"n":10},{"a":0,"b":15,"t":-70,"n":10},{"a":15,"b":20,"t":-70,"n":9},{"a":20,"b":50,"t":-70,"n":10},{"a":50,"b":55,"t":-70,"n":9},{"a":55,"b":60,"t":-70,"n":12},{"a":60,"b":85,"t":-70,"n":10},{"a":85,"b":90,"t":-70,"n":9},{"a":90,"b":100,"t":-70,"n":10},{"a":100,"b":105,"t":-70,"n":12},{"a":105,"b":120,"t":-70,"n":10},{"a":120,"b":125,"t":-70,"n":9},{"a":125,"b":135,"t":-70,"n":10},{"a":135,"b":140,"t":-70,"n":9},{"a":140,"b":155,"t":-70,"n":10},{"a":155,"b":160,"t":-70,"n":9},{"a":160,"b":175,"t":-70,"n":10},{"a":175,"b":180,"t":-70,"n":9},
{"a":-180,"b":-155,"t":-75,"n":7},{"a":-155,"b":-150,"t":-75,"n":9},{"a":-150,"b":-140,"t":-75,"n":7},{"a":-140,"b":-135,"t":-75,"n":9},{"a":-135,"b":-130,"t":-75,"n":7},{"a":-130,"b":-125,"t":-75,"n":6},{"a":-125,"b":-105,"t":-75,"n":7},{"a":-105,"b":-100,"t":-75,"n":9},{"a":-100,"b":-95,"t":-75,"n":7},{"a":-95,"b":-90,"t":-75,"n":6},{"a":-90,"b":-80,"t":-75,"n":7},{"a":-80,"b":-75,"t":-75,"n":9},{"a":-75,"b":-70,"t":-75,"n":6},{"a":-70,"b":-65,"t":-75,"n":7},{"a":-65,"b":-60,"t":-75,"n":6},{"a":-60,"b":-30,"t":-75,"n":7},{"a":-30,"b":-25,"t":-75,"n":6},{"a":-25,"b":-15,"t":-75,"n":7},{"a":-15,"b":-10,"t":-75,"n":9},{"a":-10,"b":-5,"t":-75,"n":7},{"a":-5,"b":0,"t":-75,"n":9},{"a":0,"b":25,"t":-75,"n":7},{"a":25,"b":30,"t":-75,"n":9},{"a":30,"b":45,"t":-75,"n":7},{"a":45,"b":50,"t":-75,"n":9},{"a":50,"b":55,"t":-75,"n":7},{"a":55,"b":60,"t":-75,"n":9},{"a":60,"b":70,"t":-75,"n":7},{"a":70,"b":75,"t":-75,"n":9},{"a":75,"b":85,"t":-75,"n":7},{"a":85,"b":90,"t":-75,"n":9},{"a":90,"b":110,"t":-75,"n":7},{"a":110,"b":115,"t":-75,"n":9},{"a":115,"b":120,"t":-75,"n":7},{"a":120,"b":125,"t":-75,"n":9},{"a":125,"b":130,"t":-75,"n":7},{"a":130,"b":135,"t":-75,"n":9},{"a":135,"b":140,"t":-75,"n":7},{"a":140,"b":145,"t":-75,"n":9},{"a":145,"b":150,"t":-75,"n":7},{"a":150,"b":155,"t":-75,"n":6},{"a":155,"b":180,"t":-75,"n":7},
{"a":-180,"b":-165,"t":-80,"n":6},{"a":-165,"b":-160,"t":-80,"n":4},{"a":-160,"b":-150,"t":-80,"n":6},{"a":-150,"b":-145,"t":-80,"n":4},{"a":-145,"b":-135,"t":-80,"n":6},{"a":-135,"b":-130,"t":-80,"n":4},{"a":-130,"b":-115,"t":-80,"n":6},{"a":-115,"b":-110,"t":-80,"n":4},{"a":-110,"b":-75,"t":-80,"n":6},{"a":-75,"b":-65,"t":-80,"n":4},{"a":-65,"b":-40,"t":-80,"n":6},{"a":-40,"b":-35,"t":-80,"n":4},{"a":-35,"b":-30,"t":-80,"n":6},{"a":-30,"b":-25,"t":-80,"n":4},{"a":-25,"b":0,"t":-80,"n":6},{"a":0,"b":5,"t":-80,"n":6},{"a":5,"b":10,"t":-80,"n":4},{"a":10,"b":15,"t":-80,"n":6},{"a":15,"b":20,"t":-80,"n":7},{"a":20,"b":100,"t":-80,"n":6},{"a":100,"b":105,"t":-80,"n":4},{"a":105,"b":125,"t":-80,"n":6},{"a":125,"b":130,"t":-80,"n":4},{"a":130,"b":140,"t":-80,"n":6},{"a":140,"b":150,"t":-80,"n":4},{"a":150,"b":170,"t":-80,"n":6},{"a":170,"b":180,"t":-80,"n":4},
{"a":-180,"b":-135,"t":-85,"n":2},{"a":-135,"b":-130,"t":-85,"n":4},{"a":-130,"b":-110,"t":-85,"n":2},{"a":-110,"b":-105,"t":-85,"n":4},{"a":-105,"b":-60,"t":-85,"n":2},{"a":-60,"b":-55,"t":-85,"n":4},{"a":-55,"b":-45,"t":-85,"n":2},{"a":-45,"b":-40,"t":-85,"n":4},{"a":-40,"b":-20,"t":-85,"n":2},{"a":-20,"b":-10,"t":-85,"n":4},{"a":-10,"b":0,"t":-85,"n":2},{"a":0,"b":5,"t":-85,"n":4},{"a":5,"b":10,"t":-85,"n":2},{"a":10,"b":15,"t":-85,"n":4},{"a":15,"b":75,"t":-85,"n":2},{"a":75,"b":80,"t":-85,"n":4},{"a":80,"b":100,"t":-85,"n":2},{"a":100,"b":110,"t":-85,"n":4},{"a":110,"b":115,"t":-85,"n":2},{"a":115,"b":120,"t":-85,"n":4},{"a":120,"b":125,"t":-85,"n":2},{"a":125,"b":140,"t":-85,"n":4},{"a":140,"b":150,"t":-85,"n":2},{"a":150,"b":155,"t":-85,"n":4},{"a":155,"b":180,"t":-85,"n":2},
{"a":-180,"b":180,"t":-90,"n":1}]},
"transform":[{"calculate":"datum.t+5","as":"u"}],"mark":{"type":"rect"},"encoding":{"x":{"field":"a","type":"quantitative","scale":{"domain":[-180,180],"nice":false,"zero":false},"axis":null},"x2":{"field":"b"},"y":{"field":"t","type":"quantitative","scale":{"domain":[-90,90],"nice":false,"zero":false},"axis":null},"y2":{"field":"u"},"color":{"field":"n","type":"quantitative","scale":{"type":"threshold","domain":[0.5,1.6,3.2,4.8,6.4,8,9.6,11.2,12.8,14.4,16,17.6,19.2,20.8,22.4,24,25.6,27.2,28.8,30.4],"range":["#ffffff","#6600ff","#3300ff","#0000ff","#0044ff","#0088ff","#00bbff","#00ffff","#00ffcc","#00ff88","#00ff44","#00ff00","#22ff00","#66ff00","#99ff00","#ddff00","#ffee00","#ffaa00","#ff7700","#ff3300","#ff0000"]},"legend":null}}},
{"data":{"values":[{"x":168.5,"y":100.2,"label":"Double Chooz Preliminary"}]},"mark":{"type":"text","align":"right","color":"#ff0000"},"encoding":{"x":{"field":"x","type":"quantitative","scale":{"domain":[-180,180],"nice":false,"zero":false},"axis":null},"y":{"field":"y","type":"quantitative","scale":{"domain":[-90,90],"nice":false,"zero":false},"axis":null},"text":{"field":"label"}}},
{"data":{"values":[{"p":0,"t":0}]},"mark":{"type":"point","opacity":0},"encoding":{"x":{"field":"p","type":"quantitative","scale":{"domain":[-180,180],"nice":false,"zero":false},"axis":{"orient":"bottom","values":[-150,-100,-50,0,50,100,150],"labelExpr":"replace(datum.label,'−','-')","ticks":false,"domain":false,"labelPadding":6,"title":"ϕ (°) (azimuthal)","titleAnchor":"end","titlePadding":-3}},"y":{"field":"t","type":"quantitative","scale":{"domain":[-90,90],"nice":false,"zero":false},"axis":{"orient":"left","values":[-80,-60,-40,-20,0,20,40,60,80],"labelExpr":"replace(datum.label,'−','-')","ticks":false,"domain":false,"labelPadding":6,"title":"θ (°) (zenithal)","titleAnchor":"end","titlePadding":12}}}},
{"data":{"values":[{"p":0,"t":0}]},"mark":{"type":"point","opacity":0},"encoding":{"x":{"field":"p","type":"quantitative","scale":{"domain":[-180,180],"nice":false,"zero":false},"axis":{"orient":"bottom","values":[-150,-100,-50,0,50,100,150],"labels":false,"tickSize":-18,"title":null,"zindex":1}},"y":{"field":"t","type":"quantitative","scale":{"domain":[-90,90],"nice":false,"zero":false},"axis":{"orient":"left","values":[-80,-60,-40,-20,0,20,40,60,80],"labels":false,"tickSize":-27,"title":null,"zindex":1}}}},
{"data":{"values":[{"p":0,"t":0}]},"mark":{"type":"point","opacity":0},"encoding":{"x":{"field":"p","type":"quantitative","scale":{"domain":[-180,180],"nice":false,"zero":false},"axis":{"orient":"bottom","values":[-170,-160,-140,-130,-120,-110,-90,-80,-70,-60,-40,-30,-20,-10,10,20,30,40,60,70,80,90,110,120,130,140,160,170],"labels":false,"domain":false,"tickSize":-9,"title":null,"zindex":1}},"y":{"field":"t","type":"quantitative","scale":{"domain":[-90,90],"nice":false,"zero":false},"axis":{"orient":"left","values":[-85,-75,-70,-65,-55,-50,-45,-35,-30,-25,-15,-10,-5,5,10,15,25,30,35,45,50,55,65,70,75,85],"labels":false,"domain":false,"tickSize":-14,"title":null,"zindex":1}}}},
{"data":{"values":[{"p":0,"t":0}]},"mark":{"type":"point","opacity":0},"encoding":{"x":{"field":"p","type":"quantitative","scale":{"domain":[-180,180],"nice":false,"zero":false},"axis":{"orient":"top","values":[-150,-100,-50,0,50,100,150],"labels":false,"tickSize":-18,"title":null,"zindex":1}},"y":{"field":"t","type":"quantitative","scale":{"domain":[-90,90],"nice":false,"zero":false},"axis":{"orient":"right","values":[-80,-60,-40,-20,0,20,40,60,80],"labels":false,"tickSize":-27,"title":null,"zindex":1}}}},
{"data":{"values":[{"p":0,"t":0}]},"mark":{"type":"point","opacity":0},"encoding":{"x":{"field":"p","type":"quantitative","scale":{"domain":[-180,180],"nice":false,"zero":false},"axis":{"orient":"top","values":[-170,-160,-140,-130,-120,-110,-90,-80,-70,-60,-40,-30,-20,-10,10,20,30,40,60,70,80,90,110,120,130,140,160,170],"labels":false,"domain":false,"tickSize":-9,"title":null,"zindex":1}},"y":{"field":"t","type":"quantitative","scale":{"domain":[-90,90],"nice":false,"zero":false},"axis":{"orient":"right","values":[-85,-75,-70,-65,-55,-50,-45,-35,-30,-25,-15,-10,-5,5,10,15,25,30,35,45,50,55,65,70,75,85],"labels":false,"domain":false,"tickSize":-14,"title":null,"zindex":1}}}}
]}
]}
